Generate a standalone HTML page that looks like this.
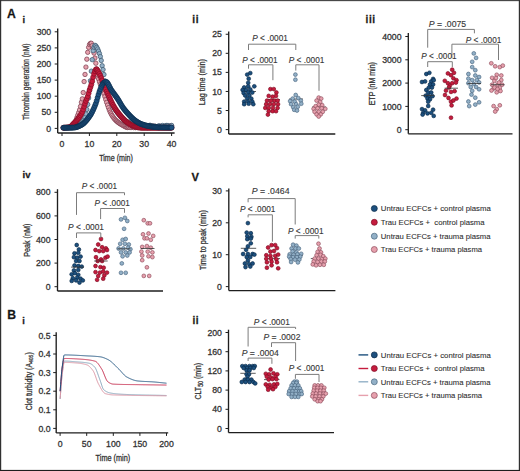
<!DOCTYPE html>
<html><head><meta charset="utf-8"><title>Figure</title>
<style>html,body{margin:0;padding:0;background:#fff;} svg{display:block;} text{font-family:"Liberation Sans", sans-serif; stroke:#333; stroke-width:0.28px;}</style>
</head><body>
<svg width="520" height="471" viewBox="0 0 520 471">
<rect x="0" y="0" width="520" height="471" fill="#ffffff"/>
<rect x="0" y="0" width="520" height="1.15" fill="#484848"/>
<rect x="0" y="0" width="1.2" height="471" fill="#303030"/>
<rect x="518.8" y="0" width="1.2" height="471" fill="#303030"/>
<rect x="0" y="469.9" width="520" height="1.1" fill="#1e1e1e"/>
<text x="7.10" y="17.80" font-size="12.2" text-anchor="start" font-weight="bold" fill="#111" >A</text>
<text x="22.40" y="23.00" font-size="9.4" text-anchor="start" font-weight="bold" fill="#111" >i</text>
<text x="192.20" y="22.60" font-size="10" text-anchor="start" font-weight="bold" fill="#111" letter-spacing="0.7">ii</text>
<text x="365.50" y="23.10" font-size="10" text-anchor="start" font-weight="bold" fill="#111" letter-spacing="0.6">iii</text>
<text x="22.60" y="178.00" font-size="9.6" text-anchor="start" font-weight="bold" fill="#111" >iv</text>
<text x="191.50" y="180.70" font-size="11.2" text-anchor="start" font-weight="bold" fill="#111" >V</text>
<text x="7.30" y="319.00" font-size="12.2" text-anchor="start" font-weight="bold" fill="#111" >B</text>
<text x="22.30" y="324.00" font-size="9.2" text-anchor="start" font-weight="bold" fill="#111" >i</text>
<text x="192.40" y="323.50" font-size="10" text-anchor="start" font-weight="bold" fill="#111" letter-spacing="0.7">ii</text>
<line x1="57.70" y1="28.50" x2="57.70" y2="133.00" stroke="#1e1e1e" stroke-width="1.35"/>
<line x1="54.70" y1="128.40" x2="57.70" y2="128.40" stroke="#1e1e1e" stroke-width="1.0"/>
<text x="51.20" y="131.50" font-size="8.7" text-anchor="end" font-weight="normal" fill="#333333" >0</text>
<line x1="54.70" y1="112.30" x2="57.70" y2="112.30" stroke="#1e1e1e" stroke-width="1.0"/>
<text x="51.20" y="115.40" font-size="8.7" text-anchor="end" font-weight="normal" fill="#333333" >50</text>
<line x1="54.70" y1="96.20" x2="57.70" y2="96.20" stroke="#1e1e1e" stroke-width="1.0"/>
<text x="51.20" y="99.30" font-size="8.7" text-anchor="end" font-weight="normal" fill="#333333" >100</text>
<line x1="54.70" y1="80.10" x2="57.70" y2="80.10" stroke="#1e1e1e" stroke-width="1.0"/>
<text x="51.20" y="83.20" font-size="8.7" text-anchor="end" font-weight="normal" fill="#333333" >150</text>
<line x1="54.70" y1="64.00" x2="57.70" y2="64.00" stroke="#1e1e1e" stroke-width="1.0"/>
<text x="51.20" y="67.10" font-size="8.7" text-anchor="end" font-weight="normal" fill="#333333" >200</text>
<line x1="54.70" y1="47.90" x2="57.70" y2="47.90" stroke="#1e1e1e" stroke-width="1.0"/>
<text x="51.20" y="51.00" font-size="8.7" text-anchor="end" font-weight="normal" fill="#333333" >250</text>
<line x1="54.70" y1="31.80" x2="57.70" y2="31.80" stroke="#1e1e1e" stroke-width="1.0"/>
<text x="51.20" y="34.90" font-size="8.7" text-anchor="end" font-weight="normal" fill="#333333" >300</text>
<line x1="57.70" y1="133.00" x2="174.60" y2="133.00" stroke="#1e1e1e" stroke-width="1.35"/>
<line x1="62.00" y1="133.00" x2="62.00" y2="136.00" stroke="#1e1e1e" stroke-width="1.0"/>
<text x="62.00" y="147.30" font-size="8.7" text-anchor="middle" font-weight="normal" fill="#333333" >0</text>
<line x1="89.40" y1="133.00" x2="89.40" y2="136.00" stroke="#1e1e1e" stroke-width="1.0"/>
<text x="89.40" y="147.30" font-size="8.7" text-anchor="middle" font-weight="normal" fill="#333333" >10</text>
<line x1="116.80" y1="133.00" x2="116.80" y2="136.00" stroke="#1e1e1e" stroke-width="1.0"/>
<text x="116.80" y="147.30" font-size="8.7" text-anchor="middle" font-weight="normal" fill="#333333" >20</text>
<line x1="144.20" y1="133.00" x2="144.20" y2="136.00" stroke="#1e1e1e" stroke-width="1.0"/>
<text x="144.20" y="147.30" font-size="8.7" text-anchor="middle" font-weight="normal" fill="#333333" >30</text>
<line x1="171.60" y1="133.00" x2="171.60" y2="136.00" stroke="#1e1e1e" stroke-width="1.0"/>
<text x="171.60" y="147.30" font-size="8.7" text-anchor="middle" font-weight="normal" fill="#333333" >40</text>
<text transform="translate(26.20,81.80) rotate(-90)" x="0" y="0" font-size="8.3" text-anchor="middle" dominant-baseline="central" fill="#333333" textLength="76.5" lengthAdjust="spacingAndGlyphs">Thrombin generation (nM)</text>
<text x="116.0" y="161" font-size="8.3" text-anchor="middle" fill="#333333" textLength="33.7" lengthAdjust="spacingAndGlyphs">Time (min)</text>
<circle cx="63.37" cy="127.76" r="2.2" fill="#e6a0ad" stroke="#7e4050" stroke-width="0.75"/>
<circle cx="64.27" cy="127.68" r="2.2" fill="#e6a0ad" stroke="#7e4050" stroke-width="0.75"/>
<circle cx="65.17" cy="127.62" r="2.2" fill="#e6a0ad" stroke="#7e4050" stroke-width="0.75"/>
<circle cx="66.08" cy="127.56" r="2.2" fill="#e6a0ad" stroke="#7e4050" stroke-width="0.75"/>
<circle cx="66.98" cy="127.49" r="2.2" fill="#e6a0ad" stroke="#7e4050" stroke-width="0.75"/>
<circle cx="67.88" cy="127.42" r="2.2" fill="#e6a0ad" stroke="#7e4050" stroke-width="0.75"/>
<circle cx="68.78" cy="127.32" r="2.2" fill="#e6a0ad" stroke="#7e4050" stroke-width="0.75"/>
<circle cx="69.68" cy="127.20" r="2.2" fill="#e6a0ad" stroke="#7e4050" stroke-width="0.75"/>
<circle cx="70.59" cy="127.02" r="2.2" fill="#e6a0ad" stroke="#7e4050" stroke-width="0.75"/>
<circle cx="71.49" cy="126.59" r="2.2" fill="#e6a0ad" stroke="#7e4050" stroke-width="0.75"/>
<circle cx="72.39" cy="125.92" r="2.2" fill="#e6a0ad" stroke="#7e4050" stroke-width="0.75"/>
<circle cx="73.29" cy="125.06" r="2.2" fill="#e6a0ad" stroke="#7e4050" stroke-width="0.75"/>
<circle cx="74.19" cy="124.04" r="2.2" fill="#e6a0ad" stroke="#7e4050" stroke-width="0.75"/>
<circle cx="75.09" cy="122.37" r="2.2" fill="#e6a0ad" stroke="#7e4050" stroke-width="0.75"/>
<circle cx="76.00" cy="120.22" r="2.2" fill="#e6a0ad" stroke="#7e4050" stroke-width="0.75"/>
<circle cx="76.90" cy="117.61" r="2.2" fill="#e6a0ad" stroke="#7e4050" stroke-width="0.75"/>
<circle cx="77.80" cy="115.12" r="2.2" fill="#e6a0ad" stroke="#7e4050" stroke-width="0.75"/>
<circle cx="78.70" cy="112.58" r="2.2" fill="#e6a0ad" stroke="#7e4050" stroke-width="0.75"/>
<circle cx="79.60" cy="109.92" r="2.2" fill="#e6a0ad" stroke="#7e4050" stroke-width="0.75"/>
<circle cx="80.51" cy="106.41" r="2.2" fill="#e6a0ad" stroke="#7e4050" stroke-width="0.75"/>
<circle cx="81.41" cy="102.25" r="2.2" fill="#e6a0ad" stroke="#7e4050" stroke-width="0.75"/>
<circle cx="82.31" cy="98.85" r="2.2" fill="#e6a0ad" stroke="#7e4050" stroke-width="0.75"/>
<circle cx="83.21" cy="92.56" r="2.2" fill="#e6a0ad" stroke="#7e4050" stroke-width="0.75"/>
<circle cx="84.11" cy="81.56" r="2.2" fill="#e6a0ad" stroke="#7e4050" stroke-width="0.75"/>
<circle cx="85.02" cy="74.43" r="2.2" fill="#e6a0ad" stroke="#7e4050" stroke-width="0.75"/>
<circle cx="85.92" cy="67.08" r="2.2" fill="#e6a0ad" stroke="#7e4050" stroke-width="0.75"/>
<circle cx="86.82" cy="59.18" r="2.2" fill="#e6a0ad" stroke="#7e4050" stroke-width="0.75"/>
<circle cx="87.72" cy="52.30" r="2.2" fill="#e6a0ad" stroke="#7e4050" stroke-width="0.75"/>
<circle cx="88.62" cy="47.39" r="2.2" fill="#e6a0ad" stroke="#7e4050" stroke-width="0.75"/>
<circle cx="89.53" cy="44.48" r="2.2" fill="#e6a0ad" stroke="#7e4050" stroke-width="0.75"/>
<circle cx="90.43" cy="43.35" r="2.2" fill="#e6a0ad" stroke="#7e4050" stroke-width="0.75"/>
<circle cx="91.33" cy="43.27" r="2.2" fill="#e6a0ad" stroke="#7e4050" stroke-width="0.75"/>
<circle cx="92.23" cy="45.69" r="2.2" fill="#e6a0ad" stroke="#7e4050" stroke-width="0.75"/>
<circle cx="93.13" cy="48.89" r="2.2" fill="#e6a0ad" stroke="#7e4050" stroke-width="0.75"/>
<circle cx="94.04" cy="53.09" r="2.2" fill="#e6a0ad" stroke="#7e4050" stroke-width="0.75"/>
<circle cx="94.94" cy="58.05" r="2.2" fill="#e6a0ad" stroke="#7e4050" stroke-width="0.75"/>
<circle cx="95.84" cy="63.23" r="2.2" fill="#e6a0ad" stroke="#7e4050" stroke-width="0.75"/>
<circle cx="96.74" cy="68.92" r="2.2" fill="#e6a0ad" stroke="#7e4050" stroke-width="0.75"/>
<circle cx="97.64" cy="74.89" r="2.2" fill="#e6a0ad" stroke="#7e4050" stroke-width="0.75"/>
<circle cx="98.54" cy="78.95" r="2.2" fill="#e6a0ad" stroke="#7e4050" stroke-width="0.75"/>
<circle cx="99.45" cy="81.86" r="2.2" fill="#e6a0ad" stroke="#7e4050" stroke-width="0.75"/>
<circle cx="100.35" cy="84.25" r="2.2" fill="#e6a0ad" stroke="#7e4050" stroke-width="0.75"/>
<circle cx="101.25" cy="86.37" r="2.2" fill="#e6a0ad" stroke="#7e4050" stroke-width="0.75"/>
<circle cx="102.15" cy="88.46" r="2.2" fill="#e6a0ad" stroke="#7e4050" stroke-width="0.75"/>
<circle cx="103.05" cy="90.77" r="2.2" fill="#e6a0ad" stroke="#7e4050" stroke-width="0.75"/>
<circle cx="103.96" cy="93.50" r="2.2" fill="#e6a0ad" stroke="#7e4050" stroke-width="0.75"/>
<circle cx="104.86" cy="96.51" r="2.2" fill="#e6a0ad" stroke="#7e4050" stroke-width="0.75"/>
<circle cx="105.76" cy="99.57" r="2.2" fill="#e6a0ad" stroke="#7e4050" stroke-width="0.75"/>
<circle cx="106.66" cy="102.47" r="2.2" fill="#e6a0ad" stroke="#7e4050" stroke-width="0.75"/>
<circle cx="107.56" cy="105.11" r="2.2" fill="#e6a0ad" stroke="#7e4050" stroke-width="0.75"/>
<circle cx="108.47" cy="107.69" r="2.2" fill="#e6a0ad" stroke="#7e4050" stroke-width="0.75"/>
<circle cx="109.37" cy="110.08" r="2.2" fill="#e6a0ad" stroke="#7e4050" stroke-width="0.75"/>
<circle cx="110.27" cy="112.16" r="2.2" fill="#e6a0ad" stroke="#7e4050" stroke-width="0.75"/>
<circle cx="111.17" cy="113.90" r="2.2" fill="#e6a0ad" stroke="#7e4050" stroke-width="0.75"/>
<circle cx="112.07" cy="115.48" r="2.2" fill="#e6a0ad" stroke="#7e4050" stroke-width="0.75"/>
<circle cx="112.98" cy="116.91" r="2.2" fill="#e6a0ad" stroke="#7e4050" stroke-width="0.75"/>
<circle cx="113.88" cy="118.19" r="2.2" fill="#e6a0ad" stroke="#7e4050" stroke-width="0.75"/>
<circle cx="114.78" cy="119.30" r="2.2" fill="#e6a0ad" stroke="#7e4050" stroke-width="0.75"/>
<circle cx="115.68" cy="120.24" r="2.2" fill="#e6a0ad" stroke="#7e4050" stroke-width="0.75"/>
<circle cx="116.58" cy="121.09" r="2.2" fill="#e6a0ad" stroke="#7e4050" stroke-width="0.75"/>
<circle cx="117.49" cy="121.87" r="2.2" fill="#e6a0ad" stroke="#7e4050" stroke-width="0.75"/>
<circle cx="118.39" cy="122.57" r="2.2" fill="#e6a0ad" stroke="#7e4050" stroke-width="0.75"/>
<circle cx="119.29" cy="123.21" r="2.2" fill="#e6a0ad" stroke="#7e4050" stroke-width="0.75"/>
<circle cx="120.19" cy="123.79" r="2.2" fill="#e6a0ad" stroke="#7e4050" stroke-width="0.75"/>
<circle cx="121.09" cy="124.32" r="2.2" fill="#e6a0ad" stroke="#7e4050" stroke-width="0.75"/>
<circle cx="121.99" cy="124.85" r="2.2" fill="#e6a0ad" stroke="#7e4050" stroke-width="0.75"/>
<circle cx="122.90" cy="125.38" r="2.2" fill="#e6a0ad" stroke="#7e4050" stroke-width="0.75"/>
<circle cx="123.80" cy="125.91" r="2.2" fill="#e6a0ad" stroke="#7e4050" stroke-width="0.75"/>
<circle cx="124.70" cy="126.40" r="2.2" fill="#e6a0ad" stroke="#7e4050" stroke-width="0.75"/>
<circle cx="125.60" cy="126.85" r="2.2" fill="#e6a0ad" stroke="#7e4050" stroke-width="0.75"/>
<circle cx="126.50" cy="127.23" r="2.2" fill="#e6a0ad" stroke="#7e4050" stroke-width="0.75"/>
<circle cx="127.41" cy="127.52" r="2.2" fill="#e6a0ad" stroke="#7e4050" stroke-width="0.75"/>
<circle cx="128.31" cy="126.97" r="2.2" fill="#e6a0ad" stroke="#7e4050" stroke-width="0.75"/>
<circle cx="129.21" cy="127.42" r="2.2" fill="#e6a0ad" stroke="#7e4050" stroke-width="0.75"/>
<circle cx="130.11" cy="126.29" r="2.2" fill="#e6a0ad" stroke="#7e4050" stroke-width="0.75"/>
<circle cx="131.01" cy="127.59" r="2.2" fill="#e6a0ad" stroke="#7e4050" stroke-width="0.75"/>
<circle cx="131.92" cy="126.55" r="2.2" fill="#e6a0ad" stroke="#7e4050" stroke-width="0.75"/>
<circle cx="132.82" cy="126.93" r="2.2" fill="#e6a0ad" stroke="#7e4050" stroke-width="0.75"/>
<circle cx="133.72" cy="127.63" r="2.2" fill="#e6a0ad" stroke="#7e4050" stroke-width="0.75"/>
<circle cx="134.62" cy="126.61" r="2.2" fill="#e6a0ad" stroke="#7e4050" stroke-width="0.75"/>
<circle cx="135.52" cy="127.67" r="2.2" fill="#e6a0ad" stroke="#7e4050" stroke-width="0.75"/>
<circle cx="136.43" cy="126.78" r="2.2" fill="#e6a0ad" stroke="#7e4050" stroke-width="0.75"/>
<circle cx="137.33" cy="127.60" r="2.2" fill="#e6a0ad" stroke="#7e4050" stroke-width="0.75"/>
<circle cx="138.23" cy="127.55" r="2.2" fill="#e6a0ad" stroke="#7e4050" stroke-width="0.75"/>
<circle cx="139.13" cy="126.80" r="2.2" fill="#e6a0ad" stroke="#7e4050" stroke-width="0.75"/>
<circle cx="140.03" cy="125.89" r="2.2" fill="#e6a0ad" stroke="#7e4050" stroke-width="0.75"/>
<circle cx="140.93" cy="127.48" r="2.2" fill="#e6a0ad" stroke="#7e4050" stroke-width="0.75"/>
<circle cx="141.84" cy="127.25" r="2.2" fill="#e6a0ad" stroke="#7e4050" stroke-width="0.75"/>
<circle cx="142.74" cy="126.34" r="2.2" fill="#e6a0ad" stroke="#7e4050" stroke-width="0.75"/>
<circle cx="143.64" cy="125.62" r="2.2" fill="#e6a0ad" stroke="#7e4050" stroke-width="0.75"/>
<circle cx="144.54" cy="126.46" r="2.2" fill="#e6a0ad" stroke="#7e4050" stroke-width="0.75"/>
<circle cx="145.44" cy="126.86" r="2.2" fill="#e6a0ad" stroke="#7e4050" stroke-width="0.75"/>
<circle cx="146.35" cy="125.56" r="2.2" fill="#e6a0ad" stroke="#7e4050" stroke-width="0.75"/>
<circle cx="147.25" cy="127.65" r="2.2" fill="#e6a0ad" stroke="#7e4050" stroke-width="0.75"/>
<circle cx="148.15" cy="125.82" r="2.2" fill="#e6a0ad" stroke="#7e4050" stroke-width="0.75"/>
<circle cx="149.05" cy="127.10" r="2.2" fill="#e6a0ad" stroke="#7e4050" stroke-width="0.75"/>
<circle cx="149.95" cy="127.43" r="2.2" fill="#e6a0ad" stroke="#7e4050" stroke-width="0.75"/>
<circle cx="150.86" cy="127.49" r="2.2" fill="#e6a0ad" stroke="#7e4050" stroke-width="0.75"/>
<circle cx="151.76" cy="127.06" r="2.2" fill="#e6a0ad" stroke="#7e4050" stroke-width="0.75"/>
<circle cx="152.66" cy="125.92" r="2.2" fill="#e6a0ad" stroke="#7e4050" stroke-width="0.75"/>
<circle cx="153.56" cy="127.35" r="2.2" fill="#e6a0ad" stroke="#7e4050" stroke-width="0.75"/>
<circle cx="154.46" cy="126.45" r="2.2" fill="#e6a0ad" stroke="#7e4050" stroke-width="0.75"/>
<circle cx="155.37" cy="126.32" r="2.2" fill="#e6a0ad" stroke="#7e4050" stroke-width="0.75"/>
<circle cx="156.27" cy="126.92" r="2.2" fill="#e6a0ad" stroke="#7e4050" stroke-width="0.75"/>
<circle cx="157.17" cy="126.52" r="2.2" fill="#e6a0ad" stroke="#7e4050" stroke-width="0.75"/>
<circle cx="158.07" cy="127.61" r="2.2" fill="#e6a0ad" stroke="#7e4050" stroke-width="0.75"/>
<circle cx="158.97" cy="127.62" r="2.2" fill="#e6a0ad" stroke="#7e4050" stroke-width="0.75"/>
<circle cx="159.88" cy="127.29" r="2.2" fill="#e6a0ad" stroke="#7e4050" stroke-width="0.75"/>
<circle cx="160.78" cy="126.22" r="2.2" fill="#e6a0ad" stroke="#7e4050" stroke-width="0.75"/>
<circle cx="161.68" cy="126.79" r="2.2" fill="#e6a0ad" stroke="#7e4050" stroke-width="0.75"/>
<circle cx="162.58" cy="127.05" r="2.2" fill="#e6a0ad" stroke="#7e4050" stroke-width="0.75"/>
<circle cx="163.48" cy="126.44" r="2.2" fill="#e6a0ad" stroke="#7e4050" stroke-width="0.75"/>
<circle cx="164.38" cy="126.73" r="2.2" fill="#e6a0ad" stroke="#7e4050" stroke-width="0.75"/>
<circle cx="165.29" cy="127.08" r="2.2" fill="#e6a0ad" stroke="#7e4050" stroke-width="0.75"/>
<circle cx="166.19" cy="125.97" r="2.2" fill="#e6a0ad" stroke="#7e4050" stroke-width="0.75"/>
<circle cx="167.09" cy="126.18" r="2.2" fill="#e6a0ad" stroke="#7e4050" stroke-width="0.75"/>
<circle cx="167.99" cy="127.21" r="2.2" fill="#e6a0ad" stroke="#7e4050" stroke-width="0.75"/>
<circle cx="168.89" cy="126.46" r="2.2" fill="#e6a0ad" stroke="#7e4050" stroke-width="0.75"/>
<circle cx="169.80" cy="126.57" r="2.2" fill="#e6a0ad" stroke="#7e4050" stroke-width="0.75"/>
<circle cx="170.70" cy="125.78" r="2.2" fill="#e6a0ad" stroke="#7e4050" stroke-width="0.75"/>
<circle cx="171.60" cy="126.11" r="2.2" fill="#e6a0ad" stroke="#7e4050" stroke-width="0.75"/>
<circle cx="63.37" cy="127.76" r="2.2" fill="#92b0c7" stroke="#3f5a70" stroke-width="0.75"/>
<circle cx="64.27" cy="127.73" r="2.2" fill="#92b0c7" stroke="#3f5a70" stroke-width="0.75"/>
<circle cx="65.17" cy="127.70" r="2.2" fill="#92b0c7" stroke="#3f5a70" stroke-width="0.75"/>
<circle cx="66.08" cy="127.68" r="2.2" fill="#92b0c7" stroke="#3f5a70" stroke-width="0.75"/>
<circle cx="66.98" cy="127.66" r="2.2" fill="#92b0c7" stroke="#3f5a70" stroke-width="0.75"/>
<circle cx="67.88" cy="127.64" r="2.2" fill="#92b0c7" stroke="#3f5a70" stroke-width="0.75"/>
<circle cx="68.78" cy="127.62" r="2.2" fill="#92b0c7" stroke="#3f5a70" stroke-width="0.75"/>
<circle cx="69.68" cy="127.59" r="2.2" fill="#92b0c7" stroke="#3f5a70" stroke-width="0.75"/>
<circle cx="70.59" cy="127.56" r="2.2" fill="#92b0c7" stroke="#3f5a70" stroke-width="0.75"/>
<circle cx="71.49" cy="127.52" r="2.2" fill="#92b0c7" stroke="#3f5a70" stroke-width="0.75"/>
<circle cx="72.39" cy="127.47" r="2.2" fill="#92b0c7" stroke="#3f5a70" stroke-width="0.75"/>
<circle cx="73.29" cy="127.40" r="2.2" fill="#92b0c7" stroke="#3f5a70" stroke-width="0.75"/>
<circle cx="74.19" cy="127.22" r="2.2" fill="#92b0c7" stroke="#3f5a70" stroke-width="0.75"/>
<circle cx="75.09" cy="126.92" r="2.2" fill="#92b0c7" stroke="#3f5a70" stroke-width="0.75"/>
<circle cx="76.00" cy="126.53" r="2.2" fill="#92b0c7" stroke="#3f5a70" stroke-width="0.75"/>
<circle cx="76.90" cy="126.06" r="2.2" fill="#92b0c7" stroke="#3f5a70" stroke-width="0.75"/>
<circle cx="77.80" cy="125.55" r="2.2" fill="#92b0c7" stroke="#3f5a70" stroke-width="0.75"/>
<circle cx="78.70" cy="125.02" r="2.2" fill="#92b0c7" stroke="#3f5a70" stroke-width="0.75"/>
<circle cx="79.60" cy="124.44" r="2.2" fill="#92b0c7" stroke="#3f5a70" stroke-width="0.75"/>
<circle cx="80.51" cy="123.75" r="2.2" fill="#92b0c7" stroke="#3f5a70" stroke-width="0.75"/>
<circle cx="81.41" cy="122.94" r="2.2" fill="#92b0c7" stroke="#3f5a70" stroke-width="0.75"/>
<circle cx="82.31" cy="121.96" r="2.2" fill="#92b0c7" stroke="#3f5a70" stroke-width="0.75"/>
<circle cx="83.21" cy="120.78" r="2.2" fill="#92b0c7" stroke="#3f5a70" stroke-width="0.75"/>
<circle cx="84.11" cy="119.37" r="2.2" fill="#92b0c7" stroke="#3f5a70" stroke-width="0.75"/>
<circle cx="85.02" cy="117.39" r="2.2" fill="#92b0c7" stroke="#3f5a70" stroke-width="0.75"/>
<circle cx="85.92" cy="113.92" r="2.2" fill="#92b0c7" stroke="#3f5a70" stroke-width="0.75"/>
<circle cx="86.82" cy="109.50" r="2.2" fill="#92b0c7" stroke="#3f5a70" stroke-width="0.75"/>
<circle cx="87.72" cy="104.47" r="2.2" fill="#92b0c7" stroke="#3f5a70" stroke-width="0.75"/>
<circle cx="88.62" cy="98.01" r="2.2" fill="#92b0c7" stroke="#3f5a70" stroke-width="0.75"/>
<circle cx="89.53" cy="90.10" r="2.2" fill="#92b0c7" stroke="#3f5a70" stroke-width="0.75"/>
<circle cx="90.43" cy="80.81" r="2.2" fill="#92b0c7" stroke="#3f5a70" stroke-width="0.75"/>
<circle cx="91.33" cy="71.15" r="2.2" fill="#92b0c7" stroke="#3f5a70" stroke-width="0.75"/>
<circle cx="92.23" cy="59.67" r="2.2" fill="#92b0c7" stroke="#3f5a70" stroke-width="0.75"/>
<circle cx="93.13" cy="50.75" r="2.2" fill="#92b0c7" stroke="#3f5a70" stroke-width="0.75"/>
<circle cx="94.04" cy="47.13" r="2.2" fill="#92b0c7" stroke="#3f5a70" stroke-width="0.75"/>
<circle cx="94.94" cy="45.33" r="2.2" fill="#92b0c7" stroke="#3f5a70" stroke-width="0.75"/>
<circle cx="95.84" cy="45.93" r="2.2" fill="#92b0c7" stroke="#3f5a70" stroke-width="0.75"/>
<circle cx="96.74" cy="47.35" r="2.2" fill="#92b0c7" stroke="#3f5a70" stroke-width="0.75"/>
<circle cx="97.64" cy="48.96" r="2.2" fill="#92b0c7" stroke="#3f5a70" stroke-width="0.75"/>
<circle cx="98.54" cy="51.08" r="2.2" fill="#92b0c7" stroke="#3f5a70" stroke-width="0.75"/>
<circle cx="99.45" cy="53.58" r="2.2" fill="#92b0c7" stroke="#3f5a70" stroke-width="0.75"/>
<circle cx="100.35" cy="56.57" r="2.2" fill="#92b0c7" stroke="#3f5a70" stroke-width="0.75"/>
<circle cx="101.25" cy="60.47" r="2.2" fill="#92b0c7" stroke="#3f5a70" stroke-width="0.75"/>
<circle cx="102.15" cy="65.71" r="2.2" fill="#92b0c7" stroke="#3f5a70" stroke-width="0.75"/>
<circle cx="103.05" cy="69.59" r="2.2" fill="#92b0c7" stroke="#3f5a70" stroke-width="0.75"/>
<circle cx="103.96" cy="74.54" r="2.2" fill="#92b0c7" stroke="#3f5a70" stroke-width="0.75"/>
<circle cx="104.86" cy="80.83" r="2.2" fill="#92b0c7" stroke="#3f5a70" stroke-width="0.75"/>
<circle cx="105.76" cy="86.59" r="2.2" fill="#92b0c7" stroke="#3f5a70" stroke-width="0.75"/>
<circle cx="106.66" cy="90.81" r="2.2" fill="#92b0c7" stroke="#3f5a70" stroke-width="0.75"/>
<circle cx="107.56" cy="93.78" r="2.2" fill="#92b0c7" stroke="#3f5a70" stroke-width="0.75"/>
<circle cx="108.47" cy="96.20" r="2.2" fill="#92b0c7" stroke="#3f5a70" stroke-width="0.75"/>
<circle cx="109.37" cy="98.37" r="2.2" fill="#92b0c7" stroke="#3f5a70" stroke-width="0.75"/>
<circle cx="110.27" cy="100.47" r="2.2" fill="#92b0c7" stroke="#3f5a70" stroke-width="0.75"/>
<circle cx="111.17" cy="102.43" r="2.2" fill="#92b0c7" stroke="#3f5a70" stroke-width="0.75"/>
<circle cx="112.07" cy="104.25" r="2.2" fill="#92b0c7" stroke="#3f5a70" stroke-width="0.75"/>
<circle cx="112.98" cy="105.94" r="2.2" fill="#92b0c7" stroke="#3f5a70" stroke-width="0.75"/>
<circle cx="113.88" cy="107.49" r="2.2" fill="#92b0c7" stroke="#3f5a70" stroke-width="0.75"/>
<circle cx="114.78" cy="108.93" r="2.2" fill="#92b0c7" stroke="#3f5a70" stroke-width="0.75"/>
<circle cx="115.68" cy="110.27" r="2.2" fill="#92b0c7" stroke="#3f5a70" stroke-width="0.75"/>
<circle cx="116.58" cy="111.53" r="2.2" fill="#92b0c7" stroke="#3f5a70" stroke-width="0.75"/>
<circle cx="117.49" cy="112.71" r="2.2" fill="#92b0c7" stroke="#3f5a70" stroke-width="0.75"/>
<circle cx="118.39" cy="113.84" r="2.2" fill="#92b0c7" stroke="#3f5a70" stroke-width="0.75"/>
<circle cx="119.29" cy="114.91" r="2.2" fill="#92b0c7" stroke="#3f5a70" stroke-width="0.75"/>
<circle cx="120.19" cy="115.95" r="2.2" fill="#92b0c7" stroke="#3f5a70" stroke-width="0.75"/>
<circle cx="121.09" cy="116.97" r="2.2" fill="#92b0c7" stroke="#3f5a70" stroke-width="0.75"/>
<circle cx="121.99" cy="117.96" r="2.2" fill="#92b0c7" stroke="#3f5a70" stroke-width="0.75"/>
<circle cx="122.90" cy="118.92" r="2.2" fill="#92b0c7" stroke="#3f5a70" stroke-width="0.75"/>
<circle cx="123.80" cy="119.83" r="2.2" fill="#92b0c7" stroke="#3f5a70" stroke-width="0.75"/>
<circle cx="124.70" cy="120.68" r="2.2" fill="#92b0c7" stroke="#3f5a70" stroke-width="0.75"/>
<circle cx="125.60" cy="121.46" r="2.2" fill="#92b0c7" stroke="#3f5a70" stroke-width="0.75"/>
<circle cx="126.50" cy="122.17" r="2.2" fill="#92b0c7" stroke="#3f5a70" stroke-width="0.75"/>
<circle cx="127.41" cy="122.81" r="2.2" fill="#92b0c7" stroke="#3f5a70" stroke-width="0.75"/>
<circle cx="128.31" cy="122.82" r="2.2" fill="#92b0c7" stroke="#3f5a70" stroke-width="0.75"/>
<circle cx="129.21" cy="121.90" r="2.2" fill="#92b0c7" stroke="#3f5a70" stroke-width="0.75"/>
<circle cx="130.11" cy="124.45" r="2.2" fill="#92b0c7" stroke="#3f5a70" stroke-width="0.75"/>
<circle cx="131.01" cy="124.34" r="2.2" fill="#92b0c7" stroke="#3f5a70" stroke-width="0.75"/>
<circle cx="131.92" cy="124.08" r="2.2" fill="#92b0c7" stroke="#3f5a70" stroke-width="0.75"/>
<circle cx="132.82" cy="125.87" r="2.2" fill="#92b0c7" stroke="#3f5a70" stroke-width="0.75"/>
<circle cx="133.72" cy="125.44" r="2.2" fill="#92b0c7" stroke="#3f5a70" stroke-width="0.75"/>
<circle cx="134.62" cy="126.66" r="2.2" fill="#92b0c7" stroke="#3f5a70" stroke-width="0.75"/>
<circle cx="135.52" cy="125.36" r="2.2" fill="#92b0c7" stroke="#3f5a70" stroke-width="0.75"/>
<circle cx="136.43" cy="125.25" r="2.2" fill="#92b0c7" stroke="#3f5a70" stroke-width="0.75"/>
<circle cx="137.33" cy="125.77" r="2.2" fill="#92b0c7" stroke="#3f5a70" stroke-width="0.75"/>
<circle cx="138.23" cy="125.18" r="2.2" fill="#92b0c7" stroke="#3f5a70" stroke-width="0.75"/>
<circle cx="139.13" cy="126.52" r="2.2" fill="#92b0c7" stroke="#3f5a70" stroke-width="0.75"/>
<circle cx="140.03" cy="125.72" r="2.2" fill="#92b0c7" stroke="#3f5a70" stroke-width="0.75"/>
<circle cx="140.93" cy="126.01" r="2.2" fill="#92b0c7" stroke="#3f5a70" stroke-width="0.75"/>
<circle cx="141.84" cy="126.08" r="2.2" fill="#92b0c7" stroke="#3f5a70" stroke-width="0.75"/>
<circle cx="142.74" cy="126.39" r="2.2" fill="#92b0c7" stroke="#3f5a70" stroke-width="0.75"/>
<circle cx="143.64" cy="125.54" r="2.2" fill="#92b0c7" stroke="#3f5a70" stroke-width="0.75"/>
<circle cx="144.54" cy="125.30" r="2.2" fill="#92b0c7" stroke="#3f5a70" stroke-width="0.75"/>
<circle cx="145.44" cy="126.37" r="2.2" fill="#92b0c7" stroke="#3f5a70" stroke-width="0.75"/>
<circle cx="146.35" cy="125.94" r="2.2" fill="#92b0c7" stroke="#3f5a70" stroke-width="0.75"/>
<circle cx="147.25" cy="127.30" r="2.2" fill="#92b0c7" stroke="#3f5a70" stroke-width="0.75"/>
<circle cx="148.15" cy="125.85" r="2.2" fill="#92b0c7" stroke="#3f5a70" stroke-width="0.75"/>
<circle cx="149.05" cy="125.98" r="2.2" fill="#92b0c7" stroke="#3f5a70" stroke-width="0.75"/>
<circle cx="149.95" cy="125.20" r="2.2" fill="#92b0c7" stroke="#3f5a70" stroke-width="0.75"/>
<circle cx="150.86" cy="125.58" r="2.2" fill="#92b0c7" stroke="#3f5a70" stroke-width="0.75"/>
<circle cx="151.76" cy="126.79" r="2.2" fill="#92b0c7" stroke="#3f5a70" stroke-width="0.75"/>
<circle cx="152.66" cy="126.56" r="2.2" fill="#92b0c7" stroke="#3f5a70" stroke-width="0.75"/>
<circle cx="153.56" cy="125.93" r="2.2" fill="#92b0c7" stroke="#3f5a70" stroke-width="0.75"/>
<circle cx="154.46" cy="127.38" r="2.2" fill="#92b0c7" stroke="#3f5a70" stroke-width="0.75"/>
<circle cx="155.37" cy="126.39" r="2.2" fill="#92b0c7" stroke="#3f5a70" stroke-width="0.75"/>
<circle cx="156.27" cy="127.06" r="2.2" fill="#92b0c7" stroke="#3f5a70" stroke-width="0.75"/>
<circle cx="157.17" cy="127.17" r="2.2" fill="#92b0c7" stroke="#3f5a70" stroke-width="0.75"/>
<circle cx="158.07" cy="127.30" r="2.2" fill="#92b0c7" stroke="#3f5a70" stroke-width="0.75"/>
<circle cx="158.97" cy="125.70" r="2.2" fill="#92b0c7" stroke="#3f5a70" stroke-width="0.75"/>
<circle cx="159.88" cy="127.14" r="2.2" fill="#92b0c7" stroke="#3f5a70" stroke-width="0.75"/>
<circle cx="160.78" cy="126.88" r="2.2" fill="#92b0c7" stroke="#3f5a70" stroke-width="0.75"/>
<circle cx="161.68" cy="126.55" r="2.2" fill="#92b0c7" stroke="#3f5a70" stroke-width="0.75"/>
<circle cx="162.58" cy="125.47" r="2.2" fill="#92b0c7" stroke="#3f5a70" stroke-width="0.75"/>
<circle cx="163.48" cy="127.25" r="2.2" fill="#92b0c7" stroke="#3f5a70" stroke-width="0.75"/>
<circle cx="164.38" cy="126.42" r="2.2" fill="#92b0c7" stroke="#3f5a70" stroke-width="0.75"/>
<circle cx="165.29" cy="126.20" r="2.2" fill="#92b0c7" stroke="#3f5a70" stroke-width="0.75"/>
<circle cx="166.19" cy="125.44" r="2.2" fill="#92b0c7" stroke="#3f5a70" stroke-width="0.75"/>
<circle cx="167.09" cy="125.59" r="2.2" fill="#92b0c7" stroke="#3f5a70" stroke-width="0.75"/>
<circle cx="167.99" cy="125.49" r="2.2" fill="#92b0c7" stroke="#3f5a70" stroke-width="0.75"/>
<circle cx="168.89" cy="126.81" r="2.2" fill="#92b0c7" stroke="#3f5a70" stroke-width="0.75"/>
<circle cx="169.80" cy="126.50" r="2.2" fill="#92b0c7" stroke="#3f5a70" stroke-width="0.75"/>
<circle cx="170.70" cy="126.63" r="2.2" fill="#92b0c7" stroke="#3f5a70" stroke-width="0.75"/>
<circle cx="171.60" cy="125.44" r="2.2" fill="#92b0c7" stroke="#3f5a70" stroke-width="0.75"/>
<circle cx="63.37" cy="127.76" r="2.5" fill="#c51c3e" stroke="#7d0c22" stroke-width="0.6"/>
<circle cx="64.27" cy="127.68" r="2.5" fill="#c51c3e" stroke="#7d0c22" stroke-width="0.6"/>
<circle cx="65.17" cy="127.62" r="2.5" fill="#c51c3e" stroke="#7d0c22" stroke-width="0.6"/>
<circle cx="66.08" cy="127.57" r="2.5" fill="#c51c3e" stroke="#7d0c22" stroke-width="0.6"/>
<circle cx="66.98" cy="127.51" r="2.5" fill="#c51c3e" stroke="#7d0c22" stroke-width="0.6"/>
<circle cx="67.88" cy="127.44" r="2.5" fill="#c51c3e" stroke="#7d0c22" stroke-width="0.6"/>
<circle cx="68.78" cy="127.34" r="2.5" fill="#c51c3e" stroke="#7d0c22" stroke-width="0.6"/>
<circle cx="69.68" cy="127.21" r="2.5" fill="#c51c3e" stroke="#7d0c22" stroke-width="0.6"/>
<circle cx="70.59" cy="126.96" r="2.5" fill="#c51c3e" stroke="#7d0c22" stroke-width="0.6"/>
<circle cx="71.49" cy="126.08" r="2.5" fill="#c51c3e" stroke="#7d0c22" stroke-width="0.6"/>
<circle cx="72.39" cy="124.89" r="2.5" fill="#c51c3e" stroke="#7d0c22" stroke-width="0.6"/>
<circle cx="73.29" cy="123.88" r="2.5" fill="#c51c3e" stroke="#7d0c22" stroke-width="0.6"/>
<circle cx="74.19" cy="123.00" r="2.5" fill="#c51c3e" stroke="#7d0c22" stroke-width="0.6"/>
<circle cx="75.09" cy="122.13" r="2.5" fill="#c51c3e" stroke="#7d0c22" stroke-width="0.6"/>
<circle cx="76.00" cy="121.23" r="2.5" fill="#c51c3e" stroke="#7d0c22" stroke-width="0.6"/>
<circle cx="76.90" cy="120.23" r="2.5" fill="#c51c3e" stroke="#7d0c22" stroke-width="0.6"/>
<circle cx="77.80" cy="119.12" r="2.5" fill="#c51c3e" stroke="#7d0c22" stroke-width="0.6"/>
<circle cx="78.70" cy="117.95" r="2.5" fill="#c51c3e" stroke="#7d0c22" stroke-width="0.6"/>
<circle cx="79.60" cy="116.67" r="2.5" fill="#c51c3e" stroke="#7d0c22" stroke-width="0.6"/>
<circle cx="80.51" cy="115.26" r="2.5" fill="#c51c3e" stroke="#7d0c22" stroke-width="0.6"/>
<circle cx="81.41" cy="113.68" r="2.5" fill="#c51c3e" stroke="#7d0c22" stroke-width="0.6"/>
<circle cx="82.31" cy="111.87" r="2.5" fill="#c51c3e" stroke="#7d0c22" stroke-width="0.6"/>
<circle cx="83.21" cy="109.48" r="2.5" fill="#c51c3e" stroke="#7d0c22" stroke-width="0.6"/>
<circle cx="84.11" cy="106.63" r="2.5" fill="#c51c3e" stroke="#7d0c22" stroke-width="0.6"/>
<circle cx="85.02" cy="103.67" r="2.5" fill="#c51c3e" stroke="#7d0c22" stroke-width="0.6"/>
<circle cx="85.92" cy="100.96" r="2.5" fill="#c51c3e" stroke="#7d0c22" stroke-width="0.6"/>
<circle cx="86.82" cy="98.67" r="2.5" fill="#c51c3e" stroke="#7d0c22" stroke-width="0.6"/>
<circle cx="87.72" cy="96.30" r="2.5" fill="#c51c3e" stroke="#7d0c22" stroke-width="0.6"/>
<circle cx="88.62" cy="93.32" r="2.5" fill="#c51c3e" stroke="#7d0c22" stroke-width="0.6"/>
<circle cx="89.53" cy="90.08" r="2.5" fill="#c51c3e" stroke="#7d0c22" stroke-width="0.6"/>
<circle cx="90.43" cy="87.19" r="2.5" fill="#c51c3e" stroke="#7d0c22" stroke-width="0.6"/>
<circle cx="91.33" cy="84.46" r="2.5" fill="#c51c3e" stroke="#7d0c22" stroke-width="0.6"/>
<circle cx="92.23" cy="81.25" r="2.5" fill="#c51c3e" stroke="#7d0c22" stroke-width="0.6"/>
<circle cx="93.13" cy="77.17" r="2.5" fill="#c51c3e" stroke="#7d0c22" stroke-width="0.6"/>
<circle cx="94.04" cy="73.72" r="2.5" fill="#c51c3e" stroke="#7d0c22" stroke-width="0.6"/>
<circle cx="94.94" cy="71.20" r="2.5" fill="#c51c3e" stroke="#7d0c22" stroke-width="0.6"/>
<circle cx="95.84" cy="69.40" r="2.5" fill="#c51c3e" stroke="#7d0c22" stroke-width="0.6"/>
<circle cx="96.74" cy="69.35" r="2.5" fill="#c51c3e" stroke="#7d0c22" stroke-width="0.6"/>
<circle cx="97.64" cy="70.53" r="2.5" fill="#c51c3e" stroke="#7d0c22" stroke-width="0.6"/>
<circle cx="98.54" cy="72.20" r="2.5" fill="#c51c3e" stroke="#7d0c22" stroke-width="0.6"/>
<circle cx="99.45" cy="73.86" r="2.5" fill="#c51c3e" stroke="#7d0c22" stroke-width="0.6"/>
<circle cx="100.35" cy="75.82" r="2.5" fill="#c51c3e" stroke="#7d0c22" stroke-width="0.6"/>
<circle cx="101.25" cy="78.05" r="2.5" fill="#c51c3e" stroke="#7d0c22" stroke-width="0.6"/>
<circle cx="102.15" cy="80.44" r="2.5" fill="#c51c3e" stroke="#7d0c22" stroke-width="0.6"/>
<circle cx="103.05" cy="82.88" r="2.5" fill="#c51c3e" stroke="#7d0c22" stroke-width="0.6"/>
<circle cx="103.96" cy="85.26" r="2.5" fill="#c51c3e" stroke="#7d0c22" stroke-width="0.6"/>
<circle cx="104.86" cy="87.45" r="2.5" fill="#c51c3e" stroke="#7d0c22" stroke-width="0.6"/>
<circle cx="105.76" cy="89.52" r="2.5" fill="#c51c3e" stroke="#7d0c22" stroke-width="0.6"/>
<circle cx="106.66" cy="91.55" r="2.5" fill="#c51c3e" stroke="#7d0c22" stroke-width="0.6"/>
<circle cx="107.56" cy="93.55" r="2.5" fill="#c51c3e" stroke="#7d0c22" stroke-width="0.6"/>
<circle cx="108.47" cy="95.50" r="2.5" fill="#c51c3e" stroke="#7d0c22" stroke-width="0.6"/>
<circle cx="109.37" cy="97.42" r="2.5" fill="#c51c3e" stroke="#7d0c22" stroke-width="0.6"/>
<circle cx="110.27" cy="99.33" r="2.5" fill="#c51c3e" stroke="#7d0c22" stroke-width="0.6"/>
<circle cx="111.17" cy="101.25" r="2.5" fill="#c51c3e" stroke="#7d0c22" stroke-width="0.6"/>
<circle cx="112.07" cy="103.12" r="2.5" fill="#c51c3e" stroke="#7d0c22" stroke-width="0.6"/>
<circle cx="112.98" cy="104.89" r="2.5" fill="#c51c3e" stroke="#7d0c22" stroke-width="0.6"/>
<circle cx="113.88" cy="106.52" r="2.5" fill="#c51c3e" stroke="#7d0c22" stroke-width="0.6"/>
<circle cx="114.78" cy="107.99" r="2.5" fill="#c51c3e" stroke="#7d0c22" stroke-width="0.6"/>
<circle cx="115.68" cy="109.38" r="2.5" fill="#c51c3e" stroke="#7d0c22" stroke-width="0.6"/>
<circle cx="116.58" cy="110.69" r="2.5" fill="#c51c3e" stroke="#7d0c22" stroke-width="0.6"/>
<circle cx="117.49" cy="111.93" r="2.5" fill="#c51c3e" stroke="#7d0c22" stroke-width="0.6"/>
<circle cx="118.39" cy="113.11" r="2.5" fill="#c51c3e" stroke="#7d0c22" stroke-width="0.6"/>
<circle cx="119.29" cy="114.24" r="2.5" fill="#c51c3e" stroke="#7d0c22" stroke-width="0.6"/>
<circle cx="120.19" cy="115.33" r="2.5" fill="#c51c3e" stroke="#7d0c22" stroke-width="0.6"/>
<circle cx="121.09" cy="116.39" r="2.5" fill="#c51c3e" stroke="#7d0c22" stroke-width="0.6"/>
<circle cx="121.99" cy="117.44" r="2.5" fill="#c51c3e" stroke="#7d0c22" stroke-width="0.6"/>
<circle cx="122.90" cy="118.45" r="2.5" fill="#c51c3e" stroke="#7d0c22" stroke-width="0.6"/>
<circle cx="123.80" cy="119.41" r="2.5" fill="#c51c3e" stroke="#7d0c22" stroke-width="0.6"/>
<circle cx="124.70" cy="120.30" r="2.5" fill="#c51c3e" stroke="#7d0c22" stroke-width="0.6"/>
<circle cx="125.60" cy="121.12" r="2.5" fill="#c51c3e" stroke="#7d0c22" stroke-width="0.6"/>
<circle cx="126.50" cy="121.84" r="2.5" fill="#c51c3e" stroke="#7d0c22" stroke-width="0.6"/>
<circle cx="127.41" cy="122.49" r="2.5" fill="#c51c3e" stroke="#7d0c22" stroke-width="0.6"/>
<circle cx="128.31" cy="123.12" r="2.5" fill="#c51c3e" stroke="#7d0c22" stroke-width="0.6"/>
<circle cx="129.21" cy="123.72" r="2.5" fill="#c51c3e" stroke="#7d0c22" stroke-width="0.6"/>
<circle cx="130.11" cy="124.29" r="2.5" fill="#c51c3e" stroke="#7d0c22" stroke-width="0.6"/>
<circle cx="131.01" cy="124.82" r="2.5" fill="#c51c3e" stroke="#7d0c22" stroke-width="0.6"/>
<circle cx="131.92" cy="125.30" r="2.5" fill="#c51c3e" stroke="#7d0c22" stroke-width="0.6"/>
<circle cx="132.82" cy="125.73" r="2.5" fill="#c51c3e" stroke="#7d0c22" stroke-width="0.6"/>
<circle cx="133.72" cy="126.09" r="2.5" fill="#c51c3e" stroke="#7d0c22" stroke-width="0.6"/>
<circle cx="134.62" cy="126.39" r="2.5" fill="#c51c3e" stroke="#7d0c22" stroke-width="0.6"/>
<circle cx="135.52" cy="126.64" r="2.5" fill="#c51c3e" stroke="#7d0c22" stroke-width="0.6"/>
<circle cx="136.43" cy="126.88" r="2.5" fill="#c51c3e" stroke="#7d0c22" stroke-width="0.6"/>
<circle cx="137.33" cy="127.10" r="2.5" fill="#c51c3e" stroke="#7d0c22" stroke-width="0.6"/>
<circle cx="138.23" cy="127.31" r="2.5" fill="#c51c3e" stroke="#7d0c22" stroke-width="0.6"/>
<circle cx="139.13" cy="127.48" r="2.5" fill="#c51c3e" stroke="#7d0c22" stroke-width="0.6"/>
<circle cx="140.03" cy="127.62" r="2.5" fill="#c51c3e" stroke="#7d0c22" stroke-width="0.6"/>
<circle cx="140.93" cy="127.71" r="2.5" fill="#c51c3e" stroke="#7d0c22" stroke-width="0.6"/>
<circle cx="141.84" cy="127.75" r="2.5" fill="#c51c3e" stroke="#7d0c22" stroke-width="0.6"/>
<circle cx="142.74" cy="127.76" r="2.5" fill="#c51c3e" stroke="#7d0c22" stroke-width="0.6"/>
<circle cx="143.64" cy="127.76" r="2.5" fill="#c51c3e" stroke="#7d0c22" stroke-width="0.6"/>
<circle cx="144.54" cy="127.76" r="2.5" fill="#c51c3e" stroke="#7d0c22" stroke-width="0.6"/>
<circle cx="145.44" cy="127.76" r="2.5" fill="#c51c3e" stroke="#7d0c22" stroke-width="0.6"/>
<circle cx="146.35" cy="127.76" r="2.5" fill="#c51c3e" stroke="#7d0c22" stroke-width="0.6"/>
<circle cx="147.25" cy="127.76" r="2.5" fill="#c51c3e" stroke="#7d0c22" stroke-width="0.6"/>
<circle cx="148.15" cy="127.76" r="2.5" fill="#c51c3e" stroke="#7d0c22" stroke-width="0.6"/>
<circle cx="149.05" cy="127.76" r="2.5" fill="#c51c3e" stroke="#7d0c22" stroke-width="0.6"/>
<circle cx="149.95" cy="127.76" r="2.5" fill="#c51c3e" stroke="#7d0c22" stroke-width="0.6"/>
<circle cx="150.86" cy="127.76" r="2.5" fill="#c51c3e" stroke="#7d0c22" stroke-width="0.6"/>
<circle cx="151.76" cy="127.76" r="2.5" fill="#c51c3e" stroke="#7d0c22" stroke-width="0.6"/>
<circle cx="152.66" cy="127.76" r="2.5" fill="#c51c3e" stroke="#7d0c22" stroke-width="0.6"/>
<circle cx="153.56" cy="127.76" r="2.5" fill="#c51c3e" stroke="#7d0c22" stroke-width="0.6"/>
<circle cx="154.46" cy="127.76" r="2.5" fill="#c51c3e" stroke="#7d0c22" stroke-width="0.6"/>
<circle cx="155.37" cy="127.76" r="2.5" fill="#c51c3e" stroke="#7d0c22" stroke-width="0.6"/>
<circle cx="156.27" cy="127.76" r="2.5" fill="#c51c3e" stroke="#7d0c22" stroke-width="0.6"/>
<circle cx="157.17" cy="127.76" r="2.5" fill="#c51c3e" stroke="#7d0c22" stroke-width="0.6"/>
<circle cx="158.07" cy="127.76" r="2.5" fill="#c51c3e" stroke="#7d0c22" stroke-width="0.6"/>
<circle cx="158.97" cy="127.76" r="2.5" fill="#c51c3e" stroke="#7d0c22" stroke-width="0.6"/>
<circle cx="159.88" cy="127.76" r="2.5" fill="#c51c3e" stroke="#7d0c22" stroke-width="0.6"/>
<circle cx="160.78" cy="127.76" r="2.5" fill="#c51c3e" stroke="#7d0c22" stroke-width="0.6"/>
<circle cx="161.68" cy="127.76" r="2.5" fill="#c51c3e" stroke="#7d0c22" stroke-width="0.6"/>
<circle cx="162.58" cy="127.76" r="2.5" fill="#c51c3e" stroke="#7d0c22" stroke-width="0.6"/>
<circle cx="163.48" cy="127.76" r="2.5" fill="#c51c3e" stroke="#7d0c22" stroke-width="0.6"/>
<circle cx="164.38" cy="127.76" r="2.5" fill="#c51c3e" stroke="#7d0c22" stroke-width="0.6"/>
<circle cx="165.29" cy="127.76" r="2.5" fill="#c51c3e" stroke="#7d0c22" stroke-width="0.6"/>
<circle cx="166.19" cy="127.76" r="2.5" fill="#c51c3e" stroke="#7d0c22" stroke-width="0.6"/>
<circle cx="167.09" cy="127.76" r="2.5" fill="#c51c3e" stroke="#7d0c22" stroke-width="0.6"/>
<circle cx="167.99" cy="127.76" r="2.5" fill="#c51c3e" stroke="#7d0c22" stroke-width="0.6"/>
<circle cx="168.89" cy="127.76" r="2.5" fill="#c51c3e" stroke="#7d0c22" stroke-width="0.6"/>
<circle cx="169.80" cy="127.76" r="2.5" fill="#c51c3e" stroke="#7d0c22" stroke-width="0.6"/>
<circle cx="170.70" cy="127.76" r="2.5" fill="#c51c3e" stroke="#7d0c22" stroke-width="0.6"/>
<circle cx="171.60" cy="127.76" r="2.5" fill="#c51c3e" stroke="#7d0c22" stroke-width="0.6"/>
<circle cx="63.37" cy="127.76" r="2.5" fill="#1d507e" stroke="#0a2a48" stroke-width="0.6"/>
<circle cx="64.27" cy="127.74" r="2.5" fill="#1d507e" stroke="#0a2a48" stroke-width="0.6"/>
<circle cx="65.17" cy="127.73" r="2.5" fill="#1d507e" stroke="#0a2a48" stroke-width="0.6"/>
<circle cx="66.08" cy="127.72" r="2.5" fill="#1d507e" stroke="#0a2a48" stroke-width="0.6"/>
<circle cx="66.98" cy="127.71" r="2.5" fill="#1d507e" stroke="#0a2a48" stroke-width="0.6"/>
<circle cx="67.88" cy="127.70" r="2.5" fill="#1d507e" stroke="#0a2a48" stroke-width="0.6"/>
<circle cx="68.78" cy="127.69" r="2.5" fill="#1d507e" stroke="#0a2a48" stroke-width="0.6"/>
<circle cx="69.68" cy="127.68" r="2.5" fill="#1d507e" stroke="#0a2a48" stroke-width="0.6"/>
<circle cx="70.59" cy="127.67" r="2.5" fill="#1d507e" stroke="#0a2a48" stroke-width="0.6"/>
<circle cx="71.49" cy="127.65" r="2.5" fill="#1d507e" stroke="#0a2a48" stroke-width="0.6"/>
<circle cx="72.39" cy="127.63" r="2.5" fill="#1d507e" stroke="#0a2a48" stroke-width="0.6"/>
<circle cx="73.29" cy="127.61" r="2.5" fill="#1d507e" stroke="#0a2a48" stroke-width="0.6"/>
<circle cx="74.19" cy="127.57" r="2.5" fill="#1d507e" stroke="#0a2a48" stroke-width="0.6"/>
<circle cx="75.09" cy="127.45" r="2.5" fill="#1d507e" stroke="#0a2a48" stroke-width="0.6"/>
<circle cx="76.00" cy="127.25" r="2.5" fill="#1d507e" stroke="#0a2a48" stroke-width="0.6"/>
<circle cx="76.90" cy="126.97" r="2.5" fill="#1d507e" stroke="#0a2a48" stroke-width="0.6"/>
<circle cx="77.80" cy="126.63" r="2.5" fill="#1d507e" stroke="#0a2a48" stroke-width="0.6"/>
<circle cx="78.70" cy="126.24" r="2.5" fill="#1d507e" stroke="#0a2a48" stroke-width="0.6"/>
<circle cx="79.60" cy="125.81" r="2.5" fill="#1d507e" stroke="#0a2a48" stroke-width="0.6"/>
<circle cx="80.51" cy="125.36" r="2.5" fill="#1d507e" stroke="#0a2a48" stroke-width="0.6"/>
<circle cx="81.41" cy="124.88" r="2.5" fill="#1d507e" stroke="#0a2a48" stroke-width="0.6"/>
<circle cx="82.31" cy="124.34" r="2.5" fill="#1d507e" stroke="#0a2a48" stroke-width="0.6"/>
<circle cx="83.21" cy="123.68" r="2.5" fill="#1d507e" stroke="#0a2a48" stroke-width="0.6"/>
<circle cx="84.11" cy="122.89" r="2.5" fill="#1d507e" stroke="#0a2a48" stroke-width="0.6"/>
<circle cx="85.02" cy="122.00" r="2.5" fill="#1d507e" stroke="#0a2a48" stroke-width="0.6"/>
<circle cx="85.92" cy="121.02" r="2.5" fill="#1d507e" stroke="#0a2a48" stroke-width="0.6"/>
<circle cx="86.82" cy="119.96" r="2.5" fill="#1d507e" stroke="#0a2a48" stroke-width="0.6"/>
<circle cx="87.72" cy="118.82" r="2.5" fill="#1d507e" stroke="#0a2a48" stroke-width="0.6"/>
<circle cx="88.62" cy="117.62" r="2.5" fill="#1d507e" stroke="#0a2a48" stroke-width="0.6"/>
<circle cx="89.53" cy="116.37" r="2.5" fill="#1d507e" stroke="#0a2a48" stroke-width="0.6"/>
<circle cx="90.43" cy="115.03" r="2.5" fill="#1d507e" stroke="#0a2a48" stroke-width="0.6"/>
<circle cx="91.33" cy="113.50" r="2.5" fill="#1d507e" stroke="#0a2a48" stroke-width="0.6"/>
<circle cx="92.23" cy="111.80" r="2.5" fill="#1d507e" stroke="#0a2a48" stroke-width="0.6"/>
<circle cx="93.13" cy="109.94" r="2.5" fill="#1d507e" stroke="#0a2a48" stroke-width="0.6"/>
<circle cx="94.04" cy="107.93" r="2.5" fill="#1d507e" stroke="#0a2a48" stroke-width="0.6"/>
<circle cx="94.94" cy="105.79" r="2.5" fill="#1d507e" stroke="#0a2a48" stroke-width="0.6"/>
<circle cx="95.84" cy="103.47" r="2.5" fill="#1d507e" stroke="#0a2a48" stroke-width="0.6"/>
<circle cx="96.74" cy="100.63" r="2.5" fill="#1d507e" stroke="#0a2a48" stroke-width="0.6"/>
<circle cx="97.64" cy="97.50" r="2.5" fill="#1d507e" stroke="#0a2a48" stroke-width="0.6"/>
<circle cx="98.54" cy="94.39" r="2.5" fill="#1d507e" stroke="#0a2a48" stroke-width="0.6"/>
<circle cx="99.45" cy="91.62" r="2.5" fill="#1d507e" stroke="#0a2a48" stroke-width="0.6"/>
<circle cx="100.35" cy="89.13" r="2.5" fill="#1d507e" stroke="#0a2a48" stroke-width="0.6"/>
<circle cx="101.25" cy="86.75" r="2.5" fill="#1d507e" stroke="#0a2a48" stroke-width="0.6"/>
<circle cx="102.15" cy="84.86" r="2.5" fill="#1d507e" stroke="#0a2a48" stroke-width="0.6"/>
<circle cx="103.05" cy="83.70" r="2.5" fill="#1d507e" stroke="#0a2a48" stroke-width="0.6"/>
<circle cx="103.96" cy="82.73" r="2.5" fill="#1d507e" stroke="#0a2a48" stroke-width="0.6"/>
<circle cx="104.86" cy="82.02" r="2.5" fill="#1d507e" stroke="#0a2a48" stroke-width="0.6"/>
<circle cx="105.76" cy="81.71" r="2.5" fill="#1d507e" stroke="#0a2a48" stroke-width="0.6"/>
<circle cx="106.66" cy="82.05" r="2.5" fill="#1d507e" stroke="#0a2a48" stroke-width="0.6"/>
<circle cx="107.56" cy="83.06" r="2.5" fill="#1d507e" stroke="#0a2a48" stroke-width="0.6"/>
<circle cx="108.47" cy="84.55" r="2.5" fill="#1d507e" stroke="#0a2a48" stroke-width="0.6"/>
<circle cx="109.37" cy="86.30" r="2.5" fill="#1d507e" stroke="#0a2a48" stroke-width="0.6"/>
<circle cx="110.27" cy="88.10" r="2.5" fill="#1d507e" stroke="#0a2a48" stroke-width="0.6"/>
<circle cx="111.17" cy="89.75" r="2.5" fill="#1d507e" stroke="#0a2a48" stroke-width="0.6"/>
<circle cx="112.07" cy="91.09" r="2.5" fill="#1d507e" stroke="#0a2a48" stroke-width="0.6"/>
<circle cx="112.98" cy="92.34" r="2.5" fill="#1d507e" stroke="#0a2a48" stroke-width="0.6"/>
<circle cx="113.88" cy="93.57" r="2.5" fill="#1d507e" stroke="#0a2a48" stroke-width="0.6"/>
<circle cx="114.78" cy="94.78" r="2.5" fill="#1d507e" stroke="#0a2a48" stroke-width="0.6"/>
<circle cx="115.68" cy="96.01" r="2.5" fill="#1d507e" stroke="#0a2a48" stroke-width="0.6"/>
<circle cx="116.58" cy="97.26" r="2.5" fill="#1d507e" stroke="#0a2a48" stroke-width="0.6"/>
<circle cx="117.49" cy="98.57" r="2.5" fill="#1d507e" stroke="#0a2a48" stroke-width="0.6"/>
<circle cx="118.39" cy="99.97" r="2.5" fill="#1d507e" stroke="#0a2a48" stroke-width="0.6"/>
<circle cx="119.29" cy="101.46" r="2.5" fill="#1d507e" stroke="#0a2a48" stroke-width="0.6"/>
<circle cx="120.19" cy="103.01" r="2.5" fill="#1d507e" stroke="#0a2a48" stroke-width="0.6"/>
<circle cx="121.09" cy="104.56" r="2.5" fill="#1d507e" stroke="#0a2a48" stroke-width="0.6"/>
<circle cx="121.99" cy="106.05" r="2.5" fill="#1d507e" stroke="#0a2a48" stroke-width="0.6"/>
<circle cx="122.90" cy="107.44" r="2.5" fill="#1d507e" stroke="#0a2a48" stroke-width="0.6"/>
<circle cx="123.80" cy="108.68" r="2.5" fill="#1d507e" stroke="#0a2a48" stroke-width="0.6"/>
<circle cx="124.70" cy="109.85" r="2.5" fill="#1d507e" stroke="#0a2a48" stroke-width="0.6"/>
<circle cx="125.60" cy="110.95" r="2.5" fill="#1d507e" stroke="#0a2a48" stroke-width="0.6"/>
<circle cx="126.50" cy="112.01" r="2.5" fill="#1d507e" stroke="#0a2a48" stroke-width="0.6"/>
<circle cx="127.41" cy="113.02" r="2.5" fill="#1d507e" stroke="#0a2a48" stroke-width="0.6"/>
<circle cx="128.31" cy="114.00" r="2.5" fill="#1d507e" stroke="#0a2a48" stroke-width="0.6"/>
<circle cx="129.21" cy="114.96" r="2.5" fill="#1d507e" stroke="#0a2a48" stroke-width="0.6"/>
<circle cx="130.11" cy="115.91" r="2.5" fill="#1d507e" stroke="#0a2a48" stroke-width="0.6"/>
<circle cx="131.01" cy="116.85" r="2.5" fill="#1d507e" stroke="#0a2a48" stroke-width="0.6"/>
<circle cx="131.92" cy="117.76" r="2.5" fill="#1d507e" stroke="#0a2a48" stroke-width="0.6"/>
<circle cx="132.82" cy="118.62" r="2.5" fill="#1d507e" stroke="#0a2a48" stroke-width="0.6"/>
<circle cx="133.72" cy="119.43" r="2.5" fill="#1d507e" stroke="#0a2a48" stroke-width="0.6"/>
<circle cx="134.62" cy="120.15" r="2.5" fill="#1d507e" stroke="#0a2a48" stroke-width="0.6"/>
<circle cx="135.52" cy="120.81" r="2.5" fill="#1d507e" stroke="#0a2a48" stroke-width="0.6"/>
<circle cx="136.43" cy="121.43" r="2.5" fill="#1d507e" stroke="#0a2a48" stroke-width="0.6"/>
<circle cx="137.33" cy="122.02" r="2.5" fill="#1d507e" stroke="#0a2a48" stroke-width="0.6"/>
<circle cx="138.23" cy="122.57" r="2.5" fill="#1d507e" stroke="#0a2a48" stroke-width="0.6"/>
<circle cx="139.13" cy="123.07" r="2.5" fill="#1d507e" stroke="#0a2a48" stroke-width="0.6"/>
<circle cx="140.03" cy="123.52" r="2.5" fill="#1d507e" stroke="#0a2a48" stroke-width="0.6"/>
<circle cx="140.93" cy="123.90" r="2.5" fill="#1d507e" stroke="#0a2a48" stroke-width="0.6"/>
<circle cx="141.84" cy="124.24" r="2.5" fill="#1d507e" stroke="#0a2a48" stroke-width="0.6"/>
<circle cx="142.74" cy="124.56" r="2.5" fill="#1d507e" stroke="#0a2a48" stroke-width="0.6"/>
<circle cx="143.64" cy="124.86" r="2.5" fill="#1d507e" stroke="#0a2a48" stroke-width="0.6"/>
<circle cx="144.54" cy="125.13" r="2.5" fill="#1d507e" stroke="#0a2a48" stroke-width="0.6"/>
<circle cx="145.44" cy="125.39" r="2.5" fill="#1d507e" stroke="#0a2a48" stroke-width="0.6"/>
<circle cx="146.35" cy="125.62" r="2.5" fill="#1d507e" stroke="#0a2a48" stroke-width="0.6"/>
<circle cx="147.25" cy="125.83" r="2.5" fill="#1d507e" stroke="#0a2a48" stroke-width="0.6"/>
<circle cx="148.15" cy="126.02" r="2.5" fill="#1d507e" stroke="#0a2a48" stroke-width="0.6"/>
<circle cx="149.05" cy="126.18" r="2.5" fill="#1d507e" stroke="#0a2a48" stroke-width="0.6"/>
<circle cx="149.95" cy="126.34" r="2.5" fill="#1d507e" stroke="#0a2a48" stroke-width="0.6"/>
<circle cx="150.86" cy="126.49" r="2.5" fill="#1d507e" stroke="#0a2a48" stroke-width="0.6"/>
<circle cx="151.76" cy="126.63" r="2.5" fill="#1d507e" stroke="#0a2a48" stroke-width="0.6"/>
<circle cx="152.66" cy="126.77" r="2.5" fill="#1d507e" stroke="#0a2a48" stroke-width="0.6"/>
<circle cx="153.56" cy="126.89" r="2.5" fill="#1d507e" stroke="#0a2a48" stroke-width="0.6"/>
<circle cx="154.46" cy="127.00" r="2.5" fill="#1d507e" stroke="#0a2a48" stroke-width="0.6"/>
<circle cx="155.37" cy="127.10" r="2.5" fill="#1d507e" stroke="#0a2a48" stroke-width="0.6"/>
<circle cx="156.27" cy="127.19" r="2.5" fill="#1d507e" stroke="#0a2a48" stroke-width="0.6"/>
<circle cx="157.17" cy="127.25" r="2.5" fill="#1d507e" stroke="#0a2a48" stroke-width="0.6"/>
<circle cx="158.07" cy="127.30" r="2.5" fill="#1d507e" stroke="#0a2a48" stroke-width="0.6"/>
<circle cx="158.97" cy="127.33" r="2.5" fill="#1d507e" stroke="#0a2a48" stroke-width="0.6"/>
<circle cx="159.88" cy="127.36" r="2.5" fill="#1d507e" stroke="#0a2a48" stroke-width="0.6"/>
<circle cx="160.78" cy="127.39" r="2.5" fill="#1d507e" stroke="#0a2a48" stroke-width="0.6"/>
<circle cx="161.68" cy="127.41" r="2.5" fill="#1d507e" stroke="#0a2a48" stroke-width="0.6"/>
<circle cx="162.58" cy="127.43" r="2.5" fill="#1d507e" stroke="#0a2a48" stroke-width="0.6"/>
<circle cx="163.48" cy="127.45" r="2.5" fill="#1d507e" stroke="#0a2a48" stroke-width="0.6"/>
<circle cx="164.38" cy="127.47" r="2.5" fill="#1d507e" stroke="#0a2a48" stroke-width="0.6"/>
<circle cx="165.29" cy="127.49" r="2.5" fill="#1d507e" stroke="#0a2a48" stroke-width="0.6"/>
<circle cx="166.19" cy="127.50" r="2.5" fill="#1d507e" stroke="#0a2a48" stroke-width="0.6"/>
<circle cx="167.09" cy="127.51" r="2.5" fill="#1d507e" stroke="#0a2a48" stroke-width="0.6"/>
<circle cx="167.99" cy="127.53" r="2.5" fill="#1d507e" stroke="#0a2a48" stroke-width="0.6"/>
<circle cx="168.89" cy="127.54" r="2.5" fill="#1d507e" stroke="#0a2a48" stroke-width="0.6"/>
<circle cx="169.80" cy="127.56" r="2.5" fill="#1d507e" stroke="#0a2a48" stroke-width="0.6"/>
<circle cx="170.70" cy="127.58" r="2.5" fill="#1d507e" stroke="#0a2a48" stroke-width="0.6"/>
<circle cx="171.60" cy="127.59" r="2.5" fill="#1d507e" stroke="#0a2a48" stroke-width="0.6"/>
<line x1="228.70" y1="31.50" x2="228.70" y2="134.00" stroke="#1e1e1e" stroke-width="1.35"/>
<line x1="225.70" y1="129.60" x2="228.70" y2="129.60" stroke="#1e1e1e" stroke-width="1.0"/>
<text x="221.90" y="132.70" font-size="8.7" text-anchor="end" font-weight="normal" fill="#333333" >0</text>
<line x1="225.70" y1="110.53" x2="228.70" y2="110.53" stroke="#1e1e1e" stroke-width="1.0"/>
<text x="221.90" y="113.63" font-size="8.7" text-anchor="end" font-weight="normal" fill="#333333" >5</text>
<line x1="225.70" y1="91.46" x2="228.70" y2="91.46" stroke="#1e1e1e" stroke-width="1.0"/>
<text x="221.90" y="94.56" font-size="8.7" text-anchor="end" font-weight="normal" fill="#333333" >10</text>
<line x1="225.70" y1="72.39" x2="228.70" y2="72.39" stroke="#1e1e1e" stroke-width="1.0"/>
<text x="221.90" y="75.49" font-size="8.7" text-anchor="end" font-weight="normal" fill="#333333" >15</text>
<line x1="225.70" y1="53.32" x2="228.70" y2="53.32" stroke="#1e1e1e" stroke-width="1.0"/>
<text x="221.90" y="56.42" font-size="8.7" text-anchor="end" font-weight="normal" fill="#333333" >20</text>
<line x1="225.70" y1="34.25" x2="228.70" y2="34.25" stroke="#1e1e1e" stroke-width="1.0"/>
<text x="221.90" y="37.35" font-size="8.7" text-anchor="end" font-weight="normal" fill="#333333" >25</text>
<line x1="228.70" y1="134.00" x2="335.30" y2="134.00" stroke="#1e1e1e" stroke-width="1.35"/>
<text transform="translate(202.40,82.10) rotate(-90)" x="0" y="0" font-size="8.3" text-anchor="middle" dominant-baseline="central" fill="#333333" textLength="46.2" lengthAdjust="spacingAndGlyphs">Lag time (min)</text>
<line x1="242.00" y1="91.50" x2="256.00" y2="91.50" stroke="#333" stroke-width="0.8"/>
<line x1="266.00" y1="99.50" x2="280.00" y2="99.50" stroke="#333" stroke-width="0.8"/>
<line x1="289.00" y1="99.00" x2="303.00" y2="99.00" stroke="#333" stroke-width="0.8"/>
<line x1="312.00" y1="107.00" x2="326.00" y2="107.00" stroke="#333" stroke-width="0.8"/>
<circle cx="250.30" cy="73.10" r="1.9" fill="#1d507e" stroke="#0a2a48" stroke-width="0.65"/>
<circle cx="247.20" cy="74.60" r="1.9" fill="#1d507e" stroke="#0a2a48" stroke-width="0.65"/>
<circle cx="248.70" cy="78.70" r="1.9" fill="#1d507e" stroke="#0a2a48" stroke-width="0.65"/>
<circle cx="248.20" cy="82.80" r="1.9" fill="#1d507e" stroke="#0a2a48" stroke-width="0.65"/>
<circle cx="244.20" cy="87.40" r="1.9" fill="#1d507e" stroke="#0a2a48" stroke-width="0.65"/>
<circle cx="248.20" cy="86.30" r="1.9" fill="#1d507e" stroke="#0a2a48" stroke-width="0.65"/>
<circle cx="254.30" cy="86.30" r="1.9" fill="#1d507e" stroke="#0a2a48" stroke-width="0.65"/>
<circle cx="242.60" cy="89.90" r="1.9" fill="#1d507e" stroke="#0a2a48" stroke-width="0.65"/>
<circle cx="246.20" cy="89.90" r="1.9" fill="#1d507e" stroke="#0a2a48" stroke-width="0.65"/>
<circle cx="250.30" cy="89.40" r="1.9" fill="#1d507e" stroke="#0a2a48" stroke-width="0.65"/>
<circle cx="243.60" cy="93.00" r="1.9" fill="#1d507e" stroke="#0a2a48" stroke-width="0.65"/>
<circle cx="248.20" cy="92.50" r="1.9" fill="#1d507e" stroke="#0a2a48" stroke-width="0.65"/>
<circle cx="252.30" cy="92.50" r="1.9" fill="#1d507e" stroke="#0a2a48" stroke-width="0.65"/>
<circle cx="245.20" cy="95.50" r="1.9" fill="#1d507e" stroke="#0a2a48" stroke-width="0.65"/>
<circle cx="249.30" cy="95.50" r="1.9" fill="#1d507e" stroke="#0a2a48" stroke-width="0.65"/>
<circle cx="247.20" cy="98.60" r="1.9" fill="#1d507e" stroke="#0a2a48" stroke-width="0.65"/>
<circle cx="251.30" cy="98.60" r="1.9" fill="#1d507e" stroke="#0a2a48" stroke-width="0.65"/>
<circle cx="244.20" cy="101.60" r="1.9" fill="#1d507e" stroke="#0a2a48" stroke-width="0.65"/>
<circle cx="248.20" cy="101.60" r="1.9" fill="#1d507e" stroke="#0a2a48" stroke-width="0.65"/>
<circle cx="252.30" cy="101.60" r="1.9" fill="#1d507e" stroke="#0a2a48" stroke-width="0.65"/>
<circle cx="244.20" cy="104.20" r="1.9" fill="#1d507e" stroke="#0a2a48" stroke-width="0.65"/>
<circle cx="253.30" cy="104.20" r="1.9" fill="#1d507e" stroke="#0a2a48" stroke-width="0.65"/>
<circle cx="248.70" cy="103.70" r="1.9" fill="#1d507e" stroke="#0a2a48" stroke-width="0.65"/>
<circle cx="270.40" cy="89.10" r="1.9" fill="#c51c3e" stroke="#7d0c22" stroke-width="0.65"/>
<circle cx="273.80" cy="89.10" r="1.9" fill="#c51c3e" stroke="#7d0c22" stroke-width="0.65"/>
<circle cx="276.40" cy="92.50" r="1.9" fill="#c51c3e" stroke="#7d0c22" stroke-width="0.65"/>
<circle cx="276.00" cy="95.90" r="1.9" fill="#c51c3e" stroke="#7d0c22" stroke-width="0.65"/>
<circle cx="272.60" cy="96.70" r="1.9" fill="#c51c3e" stroke="#7d0c22" stroke-width="0.65"/>
<circle cx="268.70" cy="95.90" r="1.9" fill="#c51c3e" stroke="#7d0c22" stroke-width="0.65"/>
<circle cx="267.00" cy="100.60" r="1.9" fill="#c51c3e" stroke="#7d0c22" stroke-width="0.65"/>
<circle cx="270.90" cy="100.60" r="1.9" fill="#c51c3e" stroke="#7d0c22" stroke-width="0.65"/>
<circle cx="274.70" cy="100.60" r="1.9" fill="#c51c3e" stroke="#7d0c22" stroke-width="0.65"/>
<circle cx="277.60" cy="100.60" r="1.9" fill="#c51c3e" stroke="#7d0c22" stroke-width="0.65"/>
<circle cx="266.20" cy="104.20" r="1.9" fill="#c51c3e" stroke="#7d0c22" stroke-width="0.65"/>
<circle cx="270.00" cy="104.20" r="1.9" fill="#c51c3e" stroke="#7d0c22" stroke-width="0.65"/>
<circle cx="273.80" cy="104.20" r="1.9" fill="#c51c3e" stroke="#7d0c22" stroke-width="0.65"/>
<circle cx="278.00" cy="104.20" r="1.9" fill="#c51c3e" stroke="#7d0c22" stroke-width="0.65"/>
<circle cx="265.30" cy="107.90" r="1.9" fill="#c51c3e" stroke="#7d0c22" stroke-width="0.65"/>
<circle cx="268.70" cy="107.90" r="1.9" fill="#c51c3e" stroke="#7d0c22" stroke-width="0.65"/>
<circle cx="273.00" cy="107.90" r="1.9" fill="#c51c3e" stroke="#7d0c22" stroke-width="0.65"/>
<circle cx="277.60" cy="107.90" r="1.9" fill="#c51c3e" stroke="#7d0c22" stroke-width="0.65"/>
<circle cx="268.70" cy="111.20" r="1.9" fill="#c51c3e" stroke="#7d0c22" stroke-width="0.65"/>
<circle cx="272.60" cy="111.20" r="1.9" fill="#c51c3e" stroke="#7d0c22" stroke-width="0.65"/>
<circle cx="276.00" cy="111.20" r="1.9" fill="#c51c3e" stroke="#7d0c22" stroke-width="0.65"/>
<circle cx="267.90" cy="114.60" r="1.9" fill="#c51c3e" stroke="#7d0c22" stroke-width="0.65"/>
<circle cx="295.40" cy="74.60" r="1.9" fill="#92b0c7" stroke="#48657e" stroke-width="0.65"/>
<circle cx="295.40" cy="79.70" r="1.9" fill="#92b0c7" stroke="#48657e" stroke-width="0.65"/>
<circle cx="295.70" cy="95.00" r="1.9" fill="#92b0c7" stroke="#48657e" stroke-width="0.65"/>
<circle cx="292.70" cy="98.60" r="1.9" fill="#92b0c7" stroke="#48657e" stroke-width="0.65"/>
<circle cx="298.30" cy="98.10" r="1.9" fill="#92b0c7" stroke="#48657e" stroke-width="0.65"/>
<circle cx="290.10" cy="101.10" r="1.9" fill="#92b0c7" stroke="#48657e" stroke-width="0.65"/>
<circle cx="294.70" cy="101.60" r="1.9" fill="#92b0c7" stroke="#48657e" stroke-width="0.65"/>
<circle cx="300.80" cy="100.60" r="1.9" fill="#92b0c7" stroke="#48657e" stroke-width="0.65"/>
<circle cx="291.10" cy="104.20" r="1.9" fill="#92b0c7" stroke="#48657e" stroke-width="0.65"/>
<circle cx="296.20" cy="104.20" r="1.9" fill="#92b0c7" stroke="#48657e" stroke-width="0.65"/>
<circle cx="301.30" cy="103.70" r="1.9" fill="#92b0c7" stroke="#48657e" stroke-width="0.65"/>
<circle cx="293.20" cy="107.20" r="1.9" fill="#92b0c7" stroke="#48657e" stroke-width="0.65"/>
<circle cx="297.80" cy="106.70" r="1.9" fill="#92b0c7" stroke="#48657e" stroke-width="0.65"/>
<circle cx="294.20" cy="109.80" r="1.9" fill="#92b0c7" stroke="#48657e" stroke-width="0.65"/>
<circle cx="297.00" cy="110.50" r="1.9" fill="#92b0c7" stroke="#48657e" stroke-width="0.65"/>
<circle cx="318.70" cy="97.60" r="1.9" fill="#e6a0ad" stroke="#8c4a5a" stroke-width="0.65"/>
<circle cx="321.20" cy="98.60" r="1.9" fill="#e6a0ad" stroke="#8c4a5a" stroke-width="0.65"/>
<circle cx="316.60" cy="100.60" r="1.9" fill="#e6a0ad" stroke="#8c4a5a" stroke-width="0.65"/>
<circle cx="320.20" cy="102.10" r="1.9" fill="#e6a0ad" stroke="#8c4a5a" stroke-width="0.65"/>
<circle cx="318.70" cy="104.70" r="1.9" fill="#e6a0ad" stroke="#8c4a5a" stroke-width="0.65"/>
<circle cx="322.20" cy="105.20" r="1.9" fill="#e6a0ad" stroke="#8c4a5a" stroke-width="0.65"/>
<circle cx="315.60" cy="106.20" r="1.9" fill="#e6a0ad" stroke="#8c4a5a" stroke-width="0.65"/>
<circle cx="313.60" cy="108.80" r="1.9" fill="#e6a0ad" stroke="#8c4a5a" stroke-width="0.65"/>
<circle cx="317.60" cy="108.30" r="1.9" fill="#e6a0ad" stroke="#8c4a5a" stroke-width="0.65"/>
<circle cx="321.70" cy="108.30" r="1.9" fill="#e6a0ad" stroke="#8c4a5a" stroke-width="0.65"/>
<circle cx="325.30" cy="108.80" r="1.9" fill="#e6a0ad" stroke="#8c4a5a" stroke-width="0.65"/>
<circle cx="314.60" cy="111.80" r="1.9" fill="#e6a0ad" stroke="#8c4a5a" stroke-width="0.65"/>
<circle cx="318.70" cy="111.80" r="1.9" fill="#e6a0ad" stroke="#8c4a5a" stroke-width="0.65"/>
<circle cx="322.70" cy="111.80" r="1.9" fill="#e6a0ad" stroke="#8c4a5a" stroke-width="0.65"/>
<circle cx="316.60" cy="114.40" r="1.9" fill="#e6a0ad" stroke="#8c4a5a" stroke-width="0.65"/>
<circle cx="320.70" cy="114.40" r="1.9" fill="#e6a0ad" stroke="#8c4a5a" stroke-width="0.65"/>
<circle cx="318.70" cy="116.50" r="1.9" fill="#e6a0ad" stroke="#8c4a5a" stroke-width="0.65"/>
<text x="252.30" y="40.50" font-size="8.3" fill="#383838" style="stroke-width:0.12px" textLength="35.60" lengthAdjust="spacingAndGlyphs"><tspan font-style="italic">P</tspan> &lt; .0001</text>
<polyline points="248.50,50.00 248.50,44.20 295.80,44.20 295.80,50.00" fill="none" stroke="#7c7c7c" stroke-width="1.0"/>
<text x="242.30" y="63.20" font-size="8.3" fill="#383838" style="stroke-width:0.12px" textLength="35.40" lengthAdjust="spacingAndGlyphs"><tspan font-style="italic">P</tspan> &lt; .0001</text>
<polyline points="248.50,68.70 248.50,64.80 272.90,64.80 272.90,80.20" fill="none" stroke="#7c7c7c" stroke-width="1.0"/>
<text x="288.80" y="63.20" font-size="8.3" fill="#383838" style="stroke-width:0.12px" textLength="35.60" lengthAdjust="spacingAndGlyphs"><tspan font-style="italic">P</tspan> &lt; .0001</text>
<polyline points="295.80,70.60 295.80,64.80 319.00,64.80 319.00,90.80" fill="none" stroke="#7c7c7c" stroke-width="1.0"/>
<line x1="408.30" y1="33.00" x2="408.30" y2="133.80" stroke="#1e1e1e" stroke-width="1.35"/>
<line x1="405.30" y1="129.70" x2="408.30" y2="129.70" stroke="#1e1e1e" stroke-width="1.0"/>
<text x="401.50" y="132.80" font-size="8.7" text-anchor="end" font-weight="normal" fill="#333333" >0</text>
<line x1="405.30" y1="106.40" x2="408.30" y2="106.40" stroke="#1e1e1e" stroke-width="1.0"/>
<text x="401.50" y="109.50" font-size="8.7" text-anchor="end" font-weight="normal" fill="#333333" >1000</text>
<line x1="405.30" y1="83.10" x2="408.30" y2="83.10" stroke="#1e1e1e" stroke-width="1.0"/>
<text x="401.50" y="86.20" font-size="8.7" text-anchor="end" font-weight="normal" fill="#333333" >2000</text>
<line x1="405.30" y1="59.80" x2="408.30" y2="59.80" stroke="#1e1e1e" stroke-width="1.0"/>
<text x="401.50" y="62.90" font-size="8.7" text-anchor="end" font-weight="normal" fill="#333333" >3000</text>
<line x1="405.30" y1="36.50" x2="408.30" y2="36.50" stroke="#1e1e1e" stroke-width="1.0"/>
<text x="401.50" y="39.60" font-size="8.7" text-anchor="end" font-weight="normal" fill="#333333" >4000</text>
<line x1="408.30" y1="133.80" x2="512.50" y2="133.80" stroke="#1e1e1e" stroke-width="1.35"/>
<text transform="translate(371.60,83.70) rotate(-90)" x="0" y="0" font-size="8.3" text-anchor="middle" dominant-baseline="central" fill="#333333" textLength="43.3" lengthAdjust="spacingAndGlyphs">ETP (nM min)</text>
<circle cx="426.30" cy="74.00" r="1.9" fill="#1d507e" stroke="#0a2a48" stroke-width="0.65"/>
<circle cx="429.40" cy="72.80" r="1.9" fill="#1d507e" stroke="#0a2a48" stroke-width="0.65"/>
<circle cx="433.10" cy="78.90" r="1.9" fill="#1d507e" stroke="#0a2a48" stroke-width="0.65"/>
<circle cx="422.00" cy="82.00" r="1.9" fill="#1d507e" stroke="#0a2a48" stroke-width="0.65"/>
<circle cx="425.10" cy="81.40" r="1.9" fill="#1d507e" stroke="#0a2a48" stroke-width="0.65"/>
<circle cx="431.20" cy="81.40" r="1.9" fill="#1d507e" stroke="#0a2a48" stroke-width="0.65"/>
<circle cx="433.70" cy="80.20" r="1.9" fill="#1d507e" stroke="#0a2a48" stroke-width="0.65"/>
<circle cx="430.00" cy="84.50" r="1.9" fill="#1d507e" stroke="#0a2a48" stroke-width="0.65"/>
<circle cx="433.10" cy="84.50" r="1.9" fill="#1d507e" stroke="#0a2a48" stroke-width="0.65"/>
<circle cx="428.80" cy="87.60" r="1.9" fill="#1d507e" stroke="#0a2a48" stroke-width="0.65"/>
<circle cx="431.90" cy="87.60" r="1.9" fill="#1d507e" stroke="#0a2a48" stroke-width="0.65"/>
<circle cx="426.30" cy="90.00" r="1.9" fill="#1d507e" stroke="#0a2a48" stroke-width="0.65"/>
<circle cx="428.20" cy="92.50" r="1.9" fill="#1d507e" stroke="#0a2a48" stroke-width="0.65"/>
<circle cx="431.20" cy="92.50" r="1.9" fill="#1d507e" stroke="#0a2a48" stroke-width="0.65"/>
<circle cx="425.70" cy="95.60" r="1.9" fill="#1d507e" stroke="#0a2a48" stroke-width="0.65"/>
<circle cx="428.80" cy="96.20" r="1.9" fill="#1d507e" stroke="#0a2a48" stroke-width="0.65"/>
<circle cx="432.50" cy="96.20" r="1.9" fill="#1d507e" stroke="#0a2a48" stroke-width="0.65"/>
<circle cx="427.50" cy="98.60" r="1.9" fill="#1d507e" stroke="#0a2a48" stroke-width="0.65"/>
<circle cx="430.00" cy="99.30" r="1.9" fill="#1d507e" stroke="#0a2a48" stroke-width="0.65"/>
<circle cx="428.20" cy="101.70" r="1.9" fill="#1d507e" stroke="#0a2a48" stroke-width="0.65"/>
<circle cx="428.20" cy="106.00" r="1.9" fill="#1d507e" stroke="#0a2a48" stroke-width="0.65"/>
<circle cx="422.00" cy="109.10" r="1.9" fill="#1d507e" stroke="#0a2a48" stroke-width="0.65"/>
<circle cx="425.10" cy="110.30" r="1.9" fill="#1d507e" stroke="#0a2a48" stroke-width="0.65"/>
<circle cx="433.10" cy="109.70" r="1.9" fill="#1d507e" stroke="#0a2a48" stroke-width="0.65"/>
<circle cx="423.20" cy="112.80" r="1.9" fill="#1d507e" stroke="#0a2a48" stroke-width="0.65"/>
<circle cx="427.50" cy="113.40" r="1.9" fill="#1d507e" stroke="#0a2a48" stroke-width="0.65"/>
<circle cx="431.20" cy="112.80" r="1.9" fill="#1d507e" stroke="#0a2a48" stroke-width="0.65"/>
<circle cx="433.70" cy="115.90" r="1.9" fill="#1d507e" stroke="#0a2a48" stroke-width="0.65"/>
<circle cx="422.60" cy="114.60" r="1.9" fill="#1d507e" stroke="#0a2a48" stroke-width="0.65"/>
<circle cx="452.20" cy="69.70" r="1.9" fill="#c51c3e" stroke="#7d0c22" stroke-width="0.65"/>
<circle cx="447.90" cy="73.40" r="1.9" fill="#c51c3e" stroke="#7d0c22" stroke-width="0.65"/>
<circle cx="454.00" cy="72.80" r="1.9" fill="#c51c3e" stroke="#7d0c22" stroke-width="0.65"/>
<circle cx="451.00" cy="75.20" r="1.9" fill="#c51c3e" stroke="#7d0c22" stroke-width="0.65"/>
<circle cx="453.40" cy="78.30" r="1.9" fill="#c51c3e" stroke="#7d0c22" stroke-width="0.65"/>
<circle cx="444.80" cy="80.80" r="1.9" fill="#c51c3e" stroke="#7d0c22" stroke-width="0.65"/>
<circle cx="456.50" cy="80.20" r="1.9" fill="#c51c3e" stroke="#7d0c22" stroke-width="0.65"/>
<circle cx="447.90" cy="83.20" r="1.9" fill="#c51c3e" stroke="#7d0c22" stroke-width="0.65"/>
<circle cx="452.20" cy="83.20" r="1.9" fill="#c51c3e" stroke="#7d0c22" stroke-width="0.65"/>
<circle cx="455.90" cy="82.60" r="1.9" fill="#c51c3e" stroke="#7d0c22" stroke-width="0.65"/>
<circle cx="449.70" cy="85.70" r="1.9" fill="#c51c3e" stroke="#7d0c22" stroke-width="0.65"/>
<circle cx="446.00" cy="90.60" r="1.9" fill="#c51c3e" stroke="#7d0c22" stroke-width="0.65"/>
<circle cx="451.00" cy="91.90" r="1.9" fill="#c51c3e" stroke="#7d0c22" stroke-width="0.65"/>
<circle cx="454.60" cy="91.20" r="1.9" fill="#c51c3e" stroke="#7d0c22" stroke-width="0.65"/>
<circle cx="448.50" cy="98.00" r="1.9" fill="#c51c3e" stroke="#7d0c22" stroke-width="0.65"/>
<circle cx="456.50" cy="98.60" r="1.9" fill="#c51c3e" stroke="#7d0c22" stroke-width="0.65"/>
<circle cx="451.00" cy="101.70" r="1.9" fill="#c51c3e" stroke="#7d0c22" stroke-width="0.65"/>
<circle cx="453.40" cy="100.50" r="1.9" fill="#c51c3e" stroke="#7d0c22" stroke-width="0.65"/>
<circle cx="449.00" cy="87.50" r="1.9" fill="#c51c3e" stroke="#7d0c22" stroke-width="0.65"/>
<circle cx="445.00" cy="95.00" r="1.9" fill="#c51c3e" stroke="#7d0c22" stroke-width="0.65"/>
<circle cx="451.60" cy="105.40" r="1.9" fill="#c51c3e" stroke="#7d0c22" stroke-width="0.65"/>
<circle cx="451.00" cy="117.70" r="1.9" fill="#c51c3e" stroke="#7d0c22" stroke-width="0.65"/>
<circle cx="473.80" cy="53.40" r="1.9" fill="#92b0c7" stroke="#48657e" stroke-width="0.65"/>
<circle cx="476.10" cy="57.90" r="1.9" fill="#92b0c7" stroke="#48657e" stroke-width="0.65"/>
<circle cx="472.20" cy="61.80" r="1.9" fill="#92b0c7" stroke="#48657e" stroke-width="0.65"/>
<circle cx="472.20" cy="67.10" r="1.9" fill="#92b0c7" stroke="#48657e" stroke-width="0.65"/>
<circle cx="475.30" cy="70.20" r="1.9" fill="#92b0c7" stroke="#48657e" stroke-width="0.65"/>
<circle cx="468.40" cy="74.00" r="1.9" fill="#92b0c7" stroke="#48657e" stroke-width="0.65"/>
<circle cx="475.30" cy="75.50" r="1.9" fill="#92b0c7" stroke="#48657e" stroke-width="0.65"/>
<circle cx="479.10" cy="77.00" r="1.9" fill="#92b0c7" stroke="#48657e" stroke-width="0.65"/>
<circle cx="468.40" cy="78.60" r="1.9" fill="#92b0c7" stroke="#48657e" stroke-width="0.65"/>
<circle cx="472.20" cy="80.10" r="1.9" fill="#92b0c7" stroke="#48657e" stroke-width="0.65"/>
<circle cx="476.80" cy="80.10" r="1.9" fill="#92b0c7" stroke="#48657e" stroke-width="0.65"/>
<circle cx="468.40" cy="83.20" r="1.9" fill="#92b0c7" stroke="#48657e" stroke-width="0.65"/>
<circle cx="473.80" cy="83.90" r="1.9" fill="#92b0c7" stroke="#48657e" stroke-width="0.65"/>
<circle cx="479.10" cy="82.40" r="1.9" fill="#92b0c7" stroke="#48657e" stroke-width="0.65"/>
<circle cx="470.70" cy="87.00" r="1.9" fill="#92b0c7" stroke="#48657e" stroke-width="0.65"/>
<circle cx="476.10" cy="87.00" r="1.9" fill="#92b0c7" stroke="#48657e" stroke-width="0.65"/>
<circle cx="472.20" cy="90.80" r="1.9" fill="#92b0c7" stroke="#48657e" stroke-width="0.65"/>
<circle cx="479.10" cy="89.30" r="1.9" fill="#92b0c7" stroke="#48657e" stroke-width="0.65"/>
<circle cx="471.50" cy="94.60" r="1.9" fill="#92b0c7" stroke="#48657e" stroke-width="0.65"/>
<circle cx="475.30" cy="97.70" r="1.9" fill="#92b0c7" stroke="#48657e" stroke-width="0.65"/>
<circle cx="468.40" cy="101.50" r="1.9" fill="#92b0c7" stroke="#48657e" stroke-width="0.65"/>
<circle cx="479.10" cy="102.30" r="1.9" fill="#92b0c7" stroke="#48657e" stroke-width="0.65"/>
<circle cx="469.20" cy="106.10" r="1.9" fill="#92b0c7" stroke="#48657e" stroke-width="0.65"/>
<circle cx="475.30" cy="104.60" r="1.9" fill="#92b0c7" stroke="#48657e" stroke-width="0.65"/>
<circle cx="491.30" cy="63.30" r="1.9" fill="#e6a0ad" stroke="#8c4a5a" stroke-width="0.65"/>
<circle cx="495.20" cy="66.30" r="1.9" fill="#e6a0ad" stroke="#8c4a5a" stroke-width="0.65"/>
<circle cx="499.80" cy="67.10" r="1.9" fill="#e6a0ad" stroke="#8c4a5a" stroke-width="0.65"/>
<circle cx="502.80" cy="65.60" r="1.9" fill="#e6a0ad" stroke="#8c4a5a" stroke-width="0.65"/>
<circle cx="496.70" cy="74.80" r="1.9" fill="#e6a0ad" stroke="#8c4a5a" stroke-width="0.65"/>
<circle cx="492.10" cy="77.80" r="1.9" fill="#e6a0ad" stroke="#8c4a5a" stroke-width="0.65"/>
<circle cx="501.30" cy="75.50" r="1.9" fill="#e6a0ad" stroke="#8c4a5a" stroke-width="0.65"/>
<circle cx="494.40" cy="80.90" r="1.9" fill="#e6a0ad" stroke="#8c4a5a" stroke-width="0.65"/>
<circle cx="501.30" cy="80.10" r="1.9" fill="#e6a0ad" stroke="#8c4a5a" stroke-width="0.65"/>
<circle cx="492.10" cy="84.70" r="1.9" fill="#e6a0ad" stroke="#8c4a5a" stroke-width="0.65"/>
<circle cx="497.50" cy="84.70" r="1.9" fill="#e6a0ad" stroke="#8c4a5a" stroke-width="0.65"/>
<circle cx="502.10" cy="84.70" r="1.9" fill="#e6a0ad" stroke="#8c4a5a" stroke-width="0.65"/>
<circle cx="493.60" cy="88.50" r="1.9" fill="#e6a0ad" stroke="#8c4a5a" stroke-width="0.65"/>
<circle cx="499.80" cy="87.80" r="1.9" fill="#e6a0ad" stroke="#8c4a5a" stroke-width="0.65"/>
<circle cx="496.70" cy="92.30" r="1.9" fill="#e6a0ad" stroke="#8c4a5a" stroke-width="0.65"/>
<circle cx="496.00" cy="78.00" r="1.9" fill="#e6a0ad" stroke="#8c4a5a" stroke-width="0.65"/>
<circle cx="499.00" cy="82.50" r="1.9" fill="#e6a0ad" stroke="#8c4a5a" stroke-width="0.65"/>
<circle cx="494.50" cy="87.50" r="1.9" fill="#e6a0ad" stroke="#8c4a5a" stroke-width="0.65"/>
<circle cx="500.50" cy="91.00" r="1.9" fill="#e6a0ad" stroke="#8c4a5a" stroke-width="0.65"/>
<circle cx="497.50" cy="89.00" r="1.9" fill="#e6a0ad" stroke="#8c4a5a" stroke-width="0.65"/>
<circle cx="491.50" cy="90.50" r="1.9" fill="#e6a0ad" stroke="#8c4a5a" stroke-width="0.65"/>
<circle cx="493.60" cy="106.10" r="1.9" fill="#e6a0ad" stroke="#8c4a5a" stroke-width="0.65"/>
<circle cx="499.80" cy="105.30" r="1.9" fill="#e6a0ad" stroke="#8c4a5a" stroke-width="0.65"/>
<circle cx="496.70" cy="109.20" r="1.9" fill="#e6a0ad" stroke="#8c4a5a" stroke-width="0.65"/>
<circle cx="495.20" cy="111.50" r="1.9" fill="#e6a0ad" stroke="#8c4a5a" stroke-width="0.65"/>
<line x1="421.20" y1="95.60" x2="434.50" y2="95.60" stroke="#333" stroke-width="0.8"/>
<line x1="444.60" y1="88.20" x2="458.00" y2="88.20" stroke="#333" stroke-width="0.8"/>
<line x1="467.50" y1="83.50" x2="481.00" y2="83.50" stroke="#333" stroke-width="0.8"/>
<line x1="491.00" y1="84.70" x2="504.50" y2="84.70" stroke="#333" stroke-width="0.8"/>
<text x="428.70" y="27.20" font-size="8.3" fill="#383838" style="stroke-width:0.12px" textLength="37.50" lengthAdjust="spacingAndGlyphs"><tspan font-style="italic">P</tspan> = .0075</text>
<polyline points="427.70,47.70 427.70,29.40 474.40,29.40 474.40,33.30" fill="none" stroke="#7c7c7c" stroke-width="1.0"/>
<text x="465.80" y="42.60" font-size="8.3" fill="#383838" style="stroke-width:0.12px" textLength="35.50" lengthAdjust="spacingAndGlyphs"><tspan font-style="italic">P</tspan> &lt; .0001</text>
<polyline points="451.90,58.00 451.90,44.20 498.50,44.20 498.50,60.00" fill="none" stroke="#7c7c7c" stroke-width="1.0"/>
<text x="421.20" y="58.80" font-size="8.3" fill="#383838" style="stroke-width:0.12px" textLength="35.30" lengthAdjust="spacingAndGlyphs"><tspan font-style="italic">P</tspan> &lt; .0001</text>
<polyline points="427.70,67.00 427.70,61.70 452.30,61.70 452.30,67.00" fill="none" stroke="#7c7c7c" stroke-width="1.0"/>
<line x1="57.50" y1="189.20" x2="57.50" y2="291.00" stroke="#1e1e1e" stroke-width="1.35"/>
<line x1="54.50" y1="286.70" x2="57.50" y2="286.70" stroke="#1e1e1e" stroke-width="1.0"/>
<text x="50.50" y="289.80" font-size="8.7" text-anchor="end" font-weight="normal" fill="#333333" >0</text>
<line x1="54.50" y1="263.10" x2="57.50" y2="263.10" stroke="#1e1e1e" stroke-width="1.0"/>
<text x="50.50" y="266.20" font-size="8.7" text-anchor="end" font-weight="normal" fill="#333333" >200</text>
<line x1="54.50" y1="239.50" x2="57.50" y2="239.50" stroke="#1e1e1e" stroke-width="1.0"/>
<text x="50.50" y="242.60" font-size="8.7" text-anchor="end" font-weight="normal" fill="#333333" >400</text>
<line x1="54.50" y1="215.90" x2="57.50" y2="215.90" stroke="#1e1e1e" stroke-width="1.0"/>
<text x="50.50" y="219.00" font-size="8.7" text-anchor="end" font-weight="normal" fill="#333333" >600</text>
<line x1="54.50" y1="192.30" x2="57.50" y2="192.30" stroke="#1e1e1e" stroke-width="1.0"/>
<text x="50.50" y="195.40" font-size="8.7" text-anchor="end" font-weight="normal" fill="#333333" >800</text>
<line x1="57.50" y1="291.00" x2="163.00" y2="291.00" stroke="#1e1e1e" stroke-width="1.35"/>
<text transform="translate(27.00,240.20) rotate(-90)" x="0" y="0" font-size="8.3" text-anchor="middle" dominant-baseline="central" fill="#333333" textLength="33" lengthAdjust="spacingAndGlyphs">Peak (nM)</text>
<circle cx="76.70" cy="245.00" r="1.9" fill="#1d507e" stroke="#0a2a48" stroke-width="0.65"/>
<circle cx="78.90" cy="249.50" r="1.9" fill="#1d507e" stroke="#0a2a48" stroke-width="0.65"/>
<circle cx="74.50" cy="253.30" r="1.9" fill="#1d507e" stroke="#0a2a48" stroke-width="0.65"/>
<circle cx="78.30" cy="252.80" r="1.9" fill="#1d507e" stroke="#0a2a48" stroke-width="0.65"/>
<circle cx="73.90" cy="257.20" r="1.9" fill="#1d507e" stroke="#0a2a48" stroke-width="0.65"/>
<circle cx="77.20" cy="257.70" r="1.9" fill="#1d507e" stroke="#0a2a48" stroke-width="0.65"/>
<circle cx="80.60" cy="256.60" r="1.9" fill="#1d507e" stroke="#0a2a48" stroke-width="0.65"/>
<circle cx="76.10" cy="261.00" r="1.9" fill="#1d507e" stroke="#0a2a48" stroke-width="0.65"/>
<circle cx="79.50" cy="261.00" r="1.9" fill="#1d507e" stroke="#0a2a48" stroke-width="0.65"/>
<circle cx="74.50" cy="265.50" r="1.9" fill="#1d507e" stroke="#0a2a48" stroke-width="0.65"/>
<circle cx="78.30" cy="266.00" r="1.9" fill="#1d507e" stroke="#0a2a48" stroke-width="0.65"/>
<circle cx="81.70" cy="266.60" r="1.9" fill="#1d507e" stroke="#0a2a48" stroke-width="0.65"/>
<circle cx="73.90" cy="270.40" r="1.9" fill="#1d507e" stroke="#0a2a48" stroke-width="0.65"/>
<circle cx="78.30" cy="269.90" r="1.9" fill="#1d507e" stroke="#0a2a48" stroke-width="0.65"/>
<circle cx="71.70" cy="274.30" r="1.9" fill="#1d507e" stroke="#0a2a48" stroke-width="0.65"/>
<circle cx="75.00" cy="273.20" r="1.9" fill="#1d507e" stroke="#0a2a48" stroke-width="0.65"/>
<circle cx="78.30" cy="274.80" r="1.9" fill="#1d507e" stroke="#0a2a48" stroke-width="0.65"/>
<circle cx="72.80" cy="278.20" r="1.9" fill="#1d507e" stroke="#0a2a48" stroke-width="0.65"/>
<circle cx="77.20" cy="277.60" r="1.9" fill="#1d507e" stroke="#0a2a48" stroke-width="0.65"/>
<circle cx="80.60" cy="278.70" r="1.9" fill="#1d507e" stroke="#0a2a48" stroke-width="0.65"/>
<circle cx="71.70" cy="280.90" r="1.9" fill="#1d507e" stroke="#0a2a48" stroke-width="0.65"/>
<circle cx="76.10" cy="280.40" r="1.9" fill="#1d507e" stroke="#0a2a48" stroke-width="0.65"/>
<circle cx="82.80" cy="280.40" r="1.9" fill="#1d507e" stroke="#0a2a48" stroke-width="0.65"/>
<circle cx="79.50" cy="282.60" r="1.9" fill="#1d507e" stroke="#0a2a48" stroke-width="0.65"/>
<circle cx="101.00" cy="239.00" r="1.9" fill="#c51c3e" stroke="#7d0c22" stroke-width="0.65"/>
<circle cx="98.20" cy="244.50" r="1.9" fill="#c51c3e" stroke="#7d0c22" stroke-width="0.65"/>
<circle cx="102.10" cy="247.20" r="1.9" fill="#c51c3e" stroke="#7d0c22" stroke-width="0.65"/>
<circle cx="105.90" cy="248.30" r="1.9" fill="#c51c3e" stroke="#7d0c22" stroke-width="0.65"/>
<circle cx="95.50" cy="250.00" r="1.9" fill="#c51c3e" stroke="#7d0c22" stroke-width="0.65"/>
<circle cx="99.30" cy="251.10" r="1.9" fill="#c51c3e" stroke="#7d0c22" stroke-width="0.65"/>
<circle cx="103.20" cy="251.10" r="1.9" fill="#c51c3e" stroke="#7d0c22" stroke-width="0.65"/>
<circle cx="107.00" cy="250.00" r="1.9" fill="#c51c3e" stroke="#7d0c22" stroke-width="0.65"/>
<circle cx="96.00" cy="257.20" r="1.9" fill="#c51c3e" stroke="#7d0c22" stroke-width="0.65"/>
<circle cx="101.00" cy="259.40" r="1.9" fill="#c51c3e" stroke="#7d0c22" stroke-width="0.65"/>
<circle cx="105.40" cy="257.70" r="1.9" fill="#c51c3e" stroke="#7d0c22" stroke-width="0.65"/>
<circle cx="107.60" cy="256.60" r="1.9" fill="#c51c3e" stroke="#7d0c22" stroke-width="0.65"/>
<circle cx="97.70" cy="261.00" r="1.9" fill="#c51c3e" stroke="#7d0c22" stroke-width="0.65"/>
<circle cx="102.10" cy="261.00" r="1.9" fill="#c51c3e" stroke="#7d0c22" stroke-width="0.65"/>
<circle cx="95.50" cy="266.00" r="1.9" fill="#c51c3e" stroke="#7d0c22" stroke-width="0.65"/>
<circle cx="100.40" cy="267.10" r="1.9" fill="#c51c3e" stroke="#7d0c22" stroke-width="0.65"/>
<circle cx="103.70" cy="267.70" r="1.9" fill="#c51c3e" stroke="#7d0c22" stroke-width="0.65"/>
<circle cx="95.50" cy="272.10" r="1.9" fill="#c51c3e" stroke="#7d0c22" stroke-width="0.65"/>
<circle cx="99.90" cy="272.60" r="1.9" fill="#c51c3e" stroke="#7d0c22" stroke-width="0.65"/>
<circle cx="103.20" cy="271.50" r="1.9" fill="#c51c3e" stroke="#7d0c22" stroke-width="0.65"/>
<circle cx="107.00" cy="272.60" r="1.9" fill="#c51c3e" stroke="#7d0c22" stroke-width="0.65"/>
<circle cx="98.20" cy="276.00" r="1.9" fill="#c51c3e" stroke="#7d0c22" stroke-width="0.65"/>
<circle cx="104.30" cy="275.40" r="1.9" fill="#c51c3e" stroke="#7d0c22" stroke-width="0.65"/>
<circle cx="97.10" cy="279.80" r="1.9" fill="#c51c3e" stroke="#7d0c22" stroke-width="0.65"/>
<circle cx="103.20" cy="278.70" r="1.9" fill="#c51c3e" stroke="#7d0c22" stroke-width="0.65"/>
<circle cx="121.00" cy="219.40" r="1.9" fill="#92b0c7" stroke="#48657e" stroke-width="0.65"/>
<circle cx="124.90" cy="217.80" r="1.9" fill="#92b0c7" stroke="#48657e" stroke-width="0.65"/>
<circle cx="127.30" cy="221.00" r="1.9" fill="#92b0c7" stroke="#48657e" stroke-width="0.65"/>
<circle cx="124.10" cy="228.80" r="1.9" fill="#92b0c7" stroke="#48657e" stroke-width="0.65"/>
<circle cx="122.60" cy="239.80" r="1.9" fill="#92b0c7" stroke="#48657e" stroke-width="0.65"/>
<circle cx="125.70" cy="239.00" r="1.9" fill="#92b0c7" stroke="#48657e" stroke-width="0.65"/>
<circle cx="120.20" cy="243.80" r="1.9" fill="#92b0c7" stroke="#48657e" stroke-width="0.65"/>
<circle cx="124.90" cy="243.80" r="1.9" fill="#92b0c7" stroke="#48657e" stroke-width="0.65"/>
<circle cx="128.80" cy="244.50" r="1.9" fill="#92b0c7" stroke="#48657e" stroke-width="0.65"/>
<circle cx="118.60" cy="248.50" r="1.9" fill="#92b0c7" stroke="#48657e" stroke-width="0.65"/>
<circle cx="123.30" cy="248.50" r="1.9" fill="#92b0c7" stroke="#48657e" stroke-width="0.65"/>
<circle cx="128.10" cy="247.70" r="1.9" fill="#92b0c7" stroke="#48657e" stroke-width="0.65"/>
<circle cx="130.40" cy="249.20" r="1.9" fill="#92b0c7" stroke="#48657e" stroke-width="0.65"/>
<circle cx="121.00" cy="252.40" r="1.9" fill="#92b0c7" stroke="#48657e" stroke-width="0.65"/>
<circle cx="125.70" cy="252.40" r="1.9" fill="#92b0c7" stroke="#48657e" stroke-width="0.65"/>
<circle cx="129.60" cy="252.40" r="1.9" fill="#92b0c7" stroke="#48657e" stroke-width="0.65"/>
<circle cx="122.60" cy="256.30" r="1.9" fill="#92b0c7" stroke="#48657e" stroke-width="0.65"/>
<circle cx="127.30" cy="255.50" r="1.9" fill="#92b0c7" stroke="#48657e" stroke-width="0.65"/>
<circle cx="121.80" cy="263.40" r="1.9" fill="#92b0c7" stroke="#48657e" stroke-width="0.65"/>
<circle cx="121.00" cy="272.80" r="1.9" fill="#92b0c7" stroke="#48657e" stroke-width="0.65"/>
<circle cx="125.70" cy="272.80" r="1.9" fill="#92b0c7" stroke="#48657e" stroke-width="0.65"/>
<circle cx="143.80" cy="220.20" r="1.9" fill="#e6a0ad" stroke="#8c4a5a" stroke-width="0.65"/>
<circle cx="147.70" cy="223.30" r="1.9" fill="#e6a0ad" stroke="#8c4a5a" stroke-width="0.65"/>
<circle cx="150.00" cy="223.30" r="1.9" fill="#e6a0ad" stroke="#8c4a5a" stroke-width="0.65"/>
<circle cx="143.00" cy="234.30" r="1.9" fill="#e6a0ad" stroke="#8c4a5a" stroke-width="0.65"/>
<circle cx="148.50" cy="233.50" r="1.9" fill="#e6a0ad" stroke="#8c4a5a" stroke-width="0.65"/>
<circle cx="153.20" cy="235.90" r="1.9" fill="#e6a0ad" stroke="#8c4a5a" stroke-width="0.65"/>
<circle cx="144.50" cy="238.30" r="1.9" fill="#e6a0ad" stroke="#8c4a5a" stroke-width="0.65"/>
<circle cx="146.90" cy="238.30" r="1.9" fill="#e6a0ad" stroke="#8c4a5a" stroke-width="0.65"/>
<circle cx="150.80" cy="239.80" r="1.9" fill="#e6a0ad" stroke="#8c4a5a" stroke-width="0.65"/>
<circle cx="142.20" cy="246.90" r="1.9" fill="#e6a0ad" stroke="#8c4a5a" stroke-width="0.65"/>
<circle cx="146.90" cy="246.10" r="1.9" fill="#e6a0ad" stroke="#8c4a5a" stroke-width="0.65"/>
<circle cx="150.80" cy="247.70" r="1.9" fill="#e6a0ad" stroke="#8c4a5a" stroke-width="0.65"/>
<circle cx="141.40" cy="251.60" r="1.9" fill="#e6a0ad" stroke="#8c4a5a" stroke-width="0.65"/>
<circle cx="147.70" cy="251.60" r="1.9" fill="#e6a0ad" stroke="#8c4a5a" stroke-width="0.65"/>
<circle cx="152.40" cy="252.40" r="1.9" fill="#e6a0ad" stroke="#8c4a5a" stroke-width="0.65"/>
<circle cx="142.20" cy="255.50" r="1.9" fill="#e6a0ad" stroke="#8c4a5a" stroke-width="0.65"/>
<circle cx="148.50" cy="256.30" r="1.9" fill="#e6a0ad" stroke="#8c4a5a" stroke-width="0.65"/>
<circle cx="152.40" cy="257.10" r="1.9" fill="#e6a0ad" stroke="#8c4a5a" stroke-width="0.65"/>
<circle cx="142.20" cy="260.20" r="1.9" fill="#e6a0ad" stroke="#8c4a5a" stroke-width="0.65"/>
<circle cx="146.90" cy="267.30" r="1.9" fill="#e6a0ad" stroke="#8c4a5a" stroke-width="0.65"/>
<circle cx="143.80" cy="275.90" r="1.9" fill="#e6a0ad" stroke="#8c4a5a" stroke-width="0.65"/>
<circle cx="149.20" cy="275.90" r="1.9" fill="#e6a0ad" stroke="#8c4a5a" stroke-width="0.65"/>
<line x1="71.10" y1="267.10" x2="84.00" y2="267.10" stroke="#333" stroke-width="0.8"/>
<line x1="94.20" y1="261.00" x2="107.70" y2="261.00" stroke="#333" stroke-width="0.8"/>
<line x1="117.50" y1="248.80" x2="130.50" y2="248.80" stroke="#333" stroke-width="0.8"/>
<line x1="140.80" y1="248.50" x2="154.50" y2="248.50" stroke="#333" stroke-width="0.8"/>
<text x="81.80" y="189.30" font-size="8.3" fill="#383838" style="stroke-width:0.12px" textLength="35.30" lengthAdjust="spacingAndGlyphs"><tspan font-style="italic">P</tspan> &lt; .0001</text>
<polyline points="76.50,214.90 76.50,192.70 124.50,192.70 124.50,195.20" fill="none" stroke="#7c7c7c" stroke-width="1.0"/>
<text x="94.50" y="205.80" font-size="8.3" fill="#383838" style="stroke-width:0.12px" textLength="35.30" lengthAdjust="spacingAndGlyphs"><tspan font-style="italic">P</tspan> &lt; .0001</text>
<polyline points="100.60,219.10 100.60,208.50 124.50,208.50 124.50,212.80" fill="none" stroke="#7c7c7c" stroke-width="1.0"/>
<text x="68.00" y="229.50" font-size="8.3" fill="#383838" style="stroke-width:0.12px" textLength="36.00" lengthAdjust="spacingAndGlyphs"><tspan font-style="italic">P</tspan> &lt; .0001</text>
<polyline points="76.50,238.00 76.50,232.90 100.80,232.90 100.80,238.00" fill="none" stroke="#7c7c7c" stroke-width="1.0"/>
<line x1="228.80" y1="188.50" x2="228.80" y2="290.60" stroke="#1e1e1e" stroke-width="1.35"/>
<line x1="225.80" y1="286.60" x2="228.80" y2="286.60" stroke="#1e1e1e" stroke-width="1.0"/>
<text x="221.90" y="289.70" font-size="8.7" text-anchor="end" font-weight="normal" fill="#333333" >0</text>
<line x1="225.80" y1="254.70" x2="228.80" y2="254.70" stroke="#1e1e1e" stroke-width="1.0"/>
<text x="221.90" y="257.80" font-size="8.7" text-anchor="end" font-weight="normal" fill="#333333" >10</text>
<line x1="225.80" y1="222.80" x2="228.80" y2="222.80" stroke="#1e1e1e" stroke-width="1.0"/>
<text x="221.90" y="225.90" font-size="8.7" text-anchor="end" font-weight="normal" fill="#333333" >20</text>
<line x1="225.80" y1="190.90" x2="228.80" y2="190.90" stroke="#1e1e1e" stroke-width="1.0"/>
<text x="221.90" y="194.00" font-size="8.7" text-anchor="end" font-weight="normal" fill="#333333" >30</text>
<line x1="228.80" y1="290.60" x2="335.40" y2="290.60" stroke="#1e1e1e" stroke-width="1.35"/>
<text transform="translate(203.00,240.00) rotate(-90)" x="0" y="0" font-size="8.3" text-anchor="middle" dominant-baseline="central" fill="#333333" textLength="60" lengthAdjust="spacingAndGlyphs">Time to peak (min)</text>
<line x1="240.80" y1="248.30" x2="256.20" y2="248.30" stroke="#333" stroke-width="0.8"/>
<line x1="264.50" y1="258.60" x2="280.00" y2="258.60" stroke="#333" stroke-width="0.8"/>
<line x1="288.00" y1="255.20" x2="303.00" y2="255.20" stroke="#333" stroke-width="0.8"/>
<line x1="310.80" y1="258.60" x2="326.50" y2="258.60" stroke="#333" stroke-width="0.8"/>
<circle cx="247.90" cy="223.10" r="1.9" fill="#1d507e" stroke="#0a2a48" stroke-width="0.65"/>
<circle cx="246.70" cy="232.60" r="1.9" fill="#1d507e" stroke="#0a2a48" stroke-width="0.65"/>
<circle cx="250.80" cy="233.20" r="1.9" fill="#1d507e" stroke="#0a2a48" stroke-width="0.65"/>
<circle cx="247.30" cy="236.20" r="1.9" fill="#1d507e" stroke="#0a2a48" stroke-width="0.65"/>
<circle cx="251.40" cy="236.80" r="1.9" fill="#1d507e" stroke="#0a2a48" stroke-width="0.65"/>
<circle cx="247.30" cy="239.20" r="1.9" fill="#1d507e" stroke="#0a2a48" stroke-width="0.65"/>
<circle cx="250.80" cy="238.60" r="1.9" fill="#1d507e" stroke="#0a2a48" stroke-width="0.65"/>
<circle cx="250.80" cy="243.30" r="1.9" fill="#1d507e" stroke="#0a2a48" stroke-width="0.65"/>
<circle cx="247.90" cy="246.30" r="1.9" fill="#1d507e" stroke="#0a2a48" stroke-width="0.65"/>
<circle cx="246.10" cy="249.80" r="1.9" fill="#1d507e" stroke="#0a2a48" stroke-width="0.65"/>
<circle cx="243.10" cy="254.00" r="1.9" fill="#1d507e" stroke="#0a2a48" stroke-width="0.65"/>
<circle cx="247.90" cy="254.00" r="1.9" fill="#1d507e" stroke="#0a2a48" stroke-width="0.65"/>
<circle cx="252.60" cy="254.00" r="1.9" fill="#1d507e" stroke="#0a2a48" stroke-width="0.65"/>
<circle cx="254.40" cy="254.60" r="1.9" fill="#1d507e" stroke="#0a2a48" stroke-width="0.65"/>
<circle cx="246.70" cy="257.00" r="1.9" fill="#1d507e" stroke="#0a2a48" stroke-width="0.65"/>
<circle cx="250.30" cy="257.00" r="1.9" fill="#1d507e" stroke="#0a2a48" stroke-width="0.65"/>
<circle cx="247.90" cy="260.50" r="1.9" fill="#1d507e" stroke="#0a2a48" stroke-width="0.65"/>
<circle cx="244.90" cy="263.50" r="1.9" fill="#1d507e" stroke="#0a2a48" stroke-width="0.65"/>
<circle cx="249.10" cy="264.10" r="1.9" fill="#1d507e" stroke="#0a2a48" stroke-width="0.65"/>
<circle cx="252.60" cy="263.50" r="1.9" fill="#1d507e" stroke="#0a2a48" stroke-width="0.65"/>
<circle cx="245.50" cy="267.10" r="1.9" fill="#1d507e" stroke="#0a2a48" stroke-width="0.65"/>
<circle cx="250.30" cy="266.50" r="1.9" fill="#1d507e" stroke="#0a2a48" stroke-width="0.65"/>
<circle cx="271.60" cy="245.10" r="1.9" fill="#c51c3e" stroke="#7d0c22" stroke-width="0.65"/>
<circle cx="275.20" cy="245.10" r="1.9" fill="#c51c3e" stroke="#7d0c22" stroke-width="0.65"/>
<circle cx="268.10" cy="247.50" r="1.9" fill="#c51c3e" stroke="#7d0c22" stroke-width="0.65"/>
<circle cx="277.00" cy="248.10" r="1.9" fill="#c51c3e" stroke="#7d0c22" stroke-width="0.65"/>
<circle cx="270.40" cy="251.60" r="1.9" fill="#c51c3e" stroke="#7d0c22" stroke-width="0.65"/>
<circle cx="274.00" cy="251.00" r="1.9" fill="#c51c3e" stroke="#7d0c22" stroke-width="0.65"/>
<circle cx="266.30" cy="255.20" r="1.9" fill="#c51c3e" stroke="#7d0c22" stroke-width="0.65"/>
<circle cx="270.40" cy="255.80" r="1.9" fill="#c51c3e" stroke="#7d0c22" stroke-width="0.65"/>
<circle cx="275.20" cy="255.80" r="1.9" fill="#c51c3e" stroke="#7d0c22" stroke-width="0.65"/>
<circle cx="278.20" cy="254.60" r="1.9" fill="#c51c3e" stroke="#7d0c22" stroke-width="0.65"/>
<circle cx="266.30" cy="258.80" r="1.9" fill="#c51c3e" stroke="#7d0c22" stroke-width="0.65"/>
<circle cx="271.00" cy="258.80" r="1.9" fill="#c51c3e" stroke="#7d0c22" stroke-width="0.65"/>
<circle cx="276.40" cy="259.30" r="1.9" fill="#c51c3e" stroke="#7d0c22" stroke-width="0.65"/>
<circle cx="266.90" cy="262.30" r="1.9" fill="#c51c3e" stroke="#7d0c22" stroke-width="0.65"/>
<circle cx="271.60" cy="261.70" r="1.9" fill="#c51c3e" stroke="#7d0c22" stroke-width="0.65"/>
<circle cx="277.00" cy="262.30" r="1.9" fill="#c51c3e" stroke="#7d0c22" stroke-width="0.65"/>
<circle cx="266.90" cy="267.70" r="1.9" fill="#c51c3e" stroke="#7d0c22" stroke-width="0.65"/>
<circle cx="271.60" cy="265.30" r="1.9" fill="#c51c3e" stroke="#7d0c22" stroke-width="0.65"/>
<circle cx="278.20" cy="268.30" r="1.9" fill="#c51c3e" stroke="#7d0c22" stroke-width="0.65"/>
<circle cx="293.10" cy="244.70" r="1.9" fill="#92b0c7" stroke="#48657e" stroke-width="0.65"/>
<circle cx="296.40" cy="245.60" r="1.9" fill="#92b0c7" stroke="#48657e" stroke-width="0.65"/>
<circle cx="291.60" cy="248.50" r="1.9" fill="#92b0c7" stroke="#48657e" stroke-width="0.65"/>
<circle cx="295.50" cy="248.50" r="1.9" fill="#92b0c7" stroke="#48657e" stroke-width="0.65"/>
<circle cx="298.80" cy="248.50" r="1.9" fill="#92b0c7" stroke="#48657e" stroke-width="0.65"/>
<circle cx="292.60" cy="251.40" r="1.9" fill="#92b0c7" stroke="#48657e" stroke-width="0.65"/>
<circle cx="296.40" cy="252.30" r="1.9" fill="#92b0c7" stroke="#48657e" stroke-width="0.65"/>
<circle cx="289.70" cy="254.30" r="1.9" fill="#92b0c7" stroke="#48657e" stroke-width="0.65"/>
<circle cx="293.50" cy="254.80" r="1.9" fill="#92b0c7" stroke="#48657e" stroke-width="0.65"/>
<circle cx="297.40" cy="254.30" r="1.9" fill="#92b0c7" stroke="#48657e" stroke-width="0.65"/>
<circle cx="301.20" cy="253.80" r="1.9" fill="#92b0c7" stroke="#48657e" stroke-width="0.65"/>
<circle cx="289.20" cy="256.70" r="1.9" fill="#92b0c7" stroke="#48657e" stroke-width="0.65"/>
<circle cx="293.10" cy="257.20" r="1.9" fill="#92b0c7" stroke="#48657e" stroke-width="0.65"/>
<circle cx="296.90" cy="257.20" r="1.9" fill="#92b0c7" stroke="#48657e" stroke-width="0.65"/>
<circle cx="300.30" cy="256.70" r="1.9" fill="#92b0c7" stroke="#48657e" stroke-width="0.65"/>
<circle cx="290.70" cy="259.10" r="1.9" fill="#92b0c7" stroke="#48657e" stroke-width="0.65"/>
<circle cx="295.00" cy="259.60" r="1.9" fill="#92b0c7" stroke="#48657e" stroke-width="0.65"/>
<circle cx="299.30" cy="259.60" r="1.9" fill="#92b0c7" stroke="#48657e" stroke-width="0.65"/>
<circle cx="291.10" cy="262.00" r="1.9" fill="#92b0c7" stroke="#48657e" stroke-width="0.65"/>
<circle cx="297.90" cy="262.40" r="1.9" fill="#92b0c7" stroke="#48657e" stroke-width="0.65"/>
<circle cx="318.50" cy="243.70" r="1.9" fill="#e6a0ad" stroke="#8c4a5a" stroke-width="0.65"/>
<circle cx="319.50" cy="248.50" r="1.9" fill="#e6a0ad" stroke="#8c4a5a" stroke-width="0.65"/>
<circle cx="317.60" cy="251.90" r="1.9" fill="#e6a0ad" stroke="#8c4a5a" stroke-width="0.65"/>
<circle cx="321.00" cy="252.30" r="1.9" fill="#e6a0ad" stroke="#8c4a5a" stroke-width="0.65"/>
<circle cx="316.60" cy="255.20" r="1.9" fill="#e6a0ad" stroke="#8c4a5a" stroke-width="0.65"/>
<circle cx="320.50" cy="254.80" r="1.9" fill="#e6a0ad" stroke="#8c4a5a" stroke-width="0.65"/>
<circle cx="323.30" cy="256.20" r="1.9" fill="#e6a0ad" stroke="#8c4a5a" stroke-width="0.65"/>
<circle cx="314.70" cy="258.60" r="1.9" fill="#e6a0ad" stroke="#8c4a5a" stroke-width="0.65"/>
<circle cx="318.50" cy="258.60" r="1.9" fill="#e6a0ad" stroke="#8c4a5a" stroke-width="0.65"/>
<circle cx="321.90" cy="259.10" r="1.9" fill="#e6a0ad" stroke="#8c4a5a" stroke-width="0.65"/>
<circle cx="325.30" cy="258.60" r="1.9" fill="#e6a0ad" stroke="#8c4a5a" stroke-width="0.65"/>
<circle cx="313.70" cy="261.50" r="1.9" fill="#e6a0ad" stroke="#8c4a5a" stroke-width="0.65"/>
<circle cx="317.60" cy="262.00" r="1.9" fill="#e6a0ad" stroke="#8c4a5a" stroke-width="0.65"/>
<circle cx="321.40" cy="261.50" r="1.9" fill="#e6a0ad" stroke="#8c4a5a" stroke-width="0.65"/>
<circle cx="324.80" cy="261.50" r="1.9" fill="#e6a0ad" stroke="#8c4a5a" stroke-width="0.65"/>
<circle cx="312.80" cy="264.40" r="1.9" fill="#e6a0ad" stroke="#8c4a5a" stroke-width="0.65"/>
<circle cx="316.10" cy="265.30" r="1.9" fill="#e6a0ad" stroke="#8c4a5a" stroke-width="0.65"/>
<circle cx="320.00" cy="264.80" r="1.9" fill="#e6a0ad" stroke="#8c4a5a" stroke-width="0.65"/>
<circle cx="323.80" cy="264.80" r="1.9" fill="#e6a0ad" stroke="#8c4a5a" stroke-width="0.65"/>
<text x="251.80" y="193.80" font-size="8.3" fill="#383838" style="stroke-width:0.12px" textLength="37.70" lengthAdjust="spacingAndGlyphs"><tspan font-style="italic">P</tspan> = .0464</text>
<polyline points="248.10,202.30 248.10,198.60 295.20,198.60 295.20,224.50" fill="none" stroke="#7c7c7c" stroke-width="1.0"/>
<text x="240.00" y="211.90" font-size="8.3" fill="#383838" style="stroke-width:0.12px" textLength="35.40" lengthAdjust="spacingAndGlyphs"><tspan font-style="italic">P</tspan> &lt; .0001</text>
<polyline points="248.10,217.40 248.10,214.80 272.40,214.80 272.40,241.70" fill="none" stroke="#7c7c7c" stroke-width="1.0"/>
<text x="287.90" y="233.60" font-size="8.3" fill="#383838" style="stroke-width:0.12px" textLength="35.60" lengthAdjust="spacingAndGlyphs"><tspan font-style="italic">P</tspan> &lt; .0001</text>
<polyline points="295.20,238.60 295.20,235.60 318.80,235.60 318.80,238.60" fill="none" stroke="#7c7c7c" stroke-width="1.0"/>
<circle cx="374.30" cy="208.50" r="3.0" fill="#1d507e" stroke="#0a2a48" stroke-width="0.7"/>
<text x="380.8" y="211.40" font-size="8.1" fill="#2e2e2e" style="stroke-width:0.1px" textLength="110.00" lengthAdjust="spacingAndGlyphs" xml:space="preserve">Untrau ECFCs + control plasma</text>
<circle cx="374.30" cy="222.30" r="3.0" fill="#c51c3e" stroke="#7d0c22" stroke-width="0.7"/>
<text x="380.8" y="225.20" font-size="8.1" fill="#2e2e2e" style="stroke-width:0.1px" textLength="103.80" lengthAdjust="spacingAndGlyphs" xml:space="preserve">Trau ECFCs +  control plasma</text>
<circle cx="374.30" cy="236.20" r="3.0" fill="#92b0c7" stroke="#48657e" stroke-width="0.7"/>
<text x="380.8" y="239.10" font-size="8.1" fill="#2e2e2e" style="stroke-width:0.1px" textLength="109.70" lengthAdjust="spacingAndGlyphs" xml:space="preserve">Untrau ECFCs + trauma plasma</text>
<circle cx="374.30" cy="249.50" r="3.0" fill="#e6a0ad" stroke="#8c4a5a" stroke-width="0.7"/>
<text x="380.8" y="252.40" font-size="8.1" fill="#2e2e2e" style="stroke-width:0.1px" textLength="101.20" lengthAdjust="spacingAndGlyphs" xml:space="preserve">Trau ECFCs + trauma plasma</text>
<line x1="56.20" y1="332.30" x2="56.20" y2="432.90" stroke="#1e1e1e" stroke-width="1.35"/>
<line x1="53.20" y1="428.40" x2="56.20" y2="428.40" stroke="#1e1e1e" stroke-width="1.0"/>
<text x="50.50" y="431.50" font-size="8.7" text-anchor="end" font-weight="normal" fill="#333333" >0.0</text>
<line x1="53.20" y1="409.80" x2="56.20" y2="409.80" stroke="#1e1e1e" stroke-width="1.0"/>
<text x="50.50" y="412.90" font-size="8.7" text-anchor="end" font-weight="normal" fill="#333333" >0.1</text>
<line x1="53.20" y1="391.20" x2="56.20" y2="391.20" stroke="#1e1e1e" stroke-width="1.0"/>
<text x="50.50" y="394.30" font-size="8.7" text-anchor="end" font-weight="normal" fill="#333333" >0.2</text>
<line x1="53.20" y1="372.60" x2="56.20" y2="372.60" stroke="#1e1e1e" stroke-width="1.0"/>
<text x="50.50" y="375.70" font-size="8.7" text-anchor="end" font-weight="normal" fill="#333333" >0.3</text>
<line x1="53.20" y1="354.00" x2="56.20" y2="354.00" stroke="#1e1e1e" stroke-width="1.0"/>
<text x="50.50" y="357.10" font-size="8.7" text-anchor="end" font-weight="normal" fill="#333333" >0.4</text>
<line x1="53.20" y1="335.40" x2="56.20" y2="335.40" stroke="#1e1e1e" stroke-width="1.0"/>
<text x="50.50" y="338.50" font-size="8.7" text-anchor="end" font-weight="normal" fill="#333333" >0.5</text>
<line x1="56.20" y1="432.90" x2="168.20" y2="432.90" stroke="#1e1e1e" stroke-width="1.35"/>
<line x1="60.10" y1="432.90" x2="60.10" y2="435.90" stroke="#1e1e1e" stroke-width="1.0"/>
<text x="60.10" y="447.10" font-size="8.7" text-anchor="middle" font-weight="normal" fill="#333333" >0</text>
<line x1="86.70" y1="432.90" x2="86.70" y2="435.90" stroke="#1e1e1e" stroke-width="1.0"/>
<text x="86.70" y="447.10" font-size="8.7" text-anchor="middle" font-weight="normal" fill="#333333" >50</text>
<line x1="113.30" y1="432.90" x2="113.30" y2="435.90" stroke="#1e1e1e" stroke-width="1.0"/>
<text x="113.30" y="447.10" font-size="8.7" text-anchor="middle" font-weight="normal" fill="#333333" >100</text>
<line x1="139.90" y1="432.90" x2="139.90" y2="435.90" stroke="#1e1e1e" stroke-width="1.0"/>
<text x="139.90" y="447.10" font-size="8.7" text-anchor="middle" font-weight="normal" fill="#333333" >150</text>
<line x1="166.50" y1="432.90" x2="166.50" y2="435.90" stroke="#1e1e1e" stroke-width="1.0"/>
<text x="166.50" y="447.10" font-size="8.7" text-anchor="middle" font-weight="normal" fill="#333333" >200</text>
<text transform="translate(28.9,381.3) rotate(-90)" font-size="8.3" text-anchor="middle" dominant-baseline="central" fill="#333333" textLength="58" lengthAdjust="spacingAndGlyphs">Clot turbidity (A<tspan font-size="6" dy="2">405</tspan><tspan dy="-2">)</tspan></text>
<text x="112.9" y="461" font-size="8.3" text-anchor="middle" fill="#333333" textLength="34.6" lengthAdjust="spacingAndGlyphs">Time (min)</text>
<polyline points="60.10,399.01 60.37,395.57 60.63,391.92 60.90,388.20 61.16,384.51 61.43,380.99 61.70,377.75 61.96,374.91 62.23,372.60 62.49,370.57 62.76,368.54 63.03,366.60 63.29,364.83 63.56,363.31 63.82,362.12 64.09,361.34 64.36,361.07 64.62,361.07 64.89,361.07 65.15,361.07 65.42,361.08 65.69,361.08 65.95,361.09 66.22,361.10 66.48,361.11 66.75,361.12 67.02,361.13 67.28,361.14 67.55,361.15 67.81,361.17 68.08,361.18 68.35,361.20 68.61,361.21 68.88,361.23 69.14,361.25 69.41,361.26 69.68,361.28 69.94,361.30 70.21,361.32 70.47,361.34 70.74,361.36 71.01,361.38 71.27,361.41 71.54,361.43 71.80,361.45 72.07,361.47 72.34,361.49 72.60,361.52 72.87,361.54 73.13,361.56 73.40,361.59 73.67,361.61 73.93,361.63 74.20,361.66 74.46,361.68 74.73,361.70 75.00,361.72 75.26,361.75 75.53,361.77 75.79,361.79 76.06,361.81 76.33,361.83 76.59,361.85 76.86,361.87 77.12,361.89 77.39,361.91 77.66,361.93 77.92,361.95 78.19,361.97 78.45,361.99 78.72,362.01 78.99,362.03 79.25,362.05 79.52,362.07 79.78,362.09 80.05,362.11 80.32,362.13 80.58,362.15 80.85,362.17 81.11,362.19 81.38,362.22 81.65,362.24 81.91,362.26 82.18,362.28 82.44,362.31 82.71,362.33 82.98,362.36 83.24,362.38 83.51,362.41 83.77,362.44 84.04,362.47 84.31,362.50 84.57,362.53 84.84,362.56 85.10,362.59 85.37,362.63 85.64,362.66 85.90,362.70 86.17,362.73 86.43,362.77 86.70,362.81 86.97,362.85 87.23,362.90 87.50,362.94 87.76,362.99 88.03,363.04 88.30,363.09 88.56,363.14 88.83,363.19 89.09,363.24 89.36,363.30 89.63,363.36 89.89,363.44 90.16,363.54 90.42,363.65 90.69,363.77 90.96,363.91 91.22,364.06 91.49,364.22 91.75,364.39 92.02,364.58 92.29,364.78 92.55,364.99 92.82,365.21 93.08,365.44 93.35,365.68 93.62,365.93 93.88,366.19 94.15,366.46 94.41,366.73 94.68,367.02 94.95,367.34 95.21,367.73 95.48,368.18 95.74,368.69 96.01,369.24 96.28,369.84 96.54,370.47 96.81,371.15 97.07,371.85 97.34,372.57 97.61,373.32 97.87,374.08 98.14,374.85 98.40,375.62 98.67,376.39 98.94,377.15 99.20,377.90 99.47,378.64 99.73,379.35 100.00,380.04 100.27,380.74 100.53,381.51 100.80,382.31 101.06,383.14 101.33,383.98 101.60,384.82 101.86,385.64 102.13,386.44 102.39,387.18 102.66,387.87 102.93,388.48 103.19,389.00 103.46,389.41 103.72,389.71 103.99,389.94 104.26,390.16 104.52,390.37 104.79,390.57 105.05,390.76 105.32,390.94 105.59,391.12 105.85,391.28 106.12,391.44 106.38,391.59 106.65,391.73 106.92,391.87 107.18,391.99 107.45,392.11 107.71,392.22 107.98,392.33 108.25,392.43 108.51,392.52 108.78,392.61 109.04,392.69 109.31,392.77 109.58,392.83 109.84,392.90 110.11,392.96 110.37,393.01 110.64,393.06 110.91,393.11 111.17,393.15 111.44,393.19 111.70,393.24 111.97,393.28 112.24,393.32 112.50,393.36 112.77,393.40 113.03,393.44 113.30,393.47 113.57,393.51 113.83,393.55 114.10,393.58 114.36,393.61 114.63,393.64 114.90,393.68 115.16,393.71 115.43,393.74 115.69,393.77 115.96,393.79 116.23,393.82 116.49,393.85 116.76,393.88 117.02,393.90 117.29,393.93 117.56,393.95 117.82,393.97 118.09,394.00 118.35,394.02 118.62,394.04 118.89,394.06 119.15,394.08 119.42,394.10 119.68,394.12 119.95,394.14 120.22,394.16 120.48,394.17 120.75,394.19 121.01,394.21 121.28,394.22 121.55,394.24 121.81,394.25 122.08,394.27 122.34,394.28 122.61,394.30 122.88,394.31 123.14,394.32 123.41,394.34 123.67,394.35 123.94,394.36 124.21,394.37 124.47,394.39 124.74,394.40 125.00,394.41 125.27,394.42 125.54,394.43 125.80,394.44 126.07,394.46 126.33,394.47 126.60,394.48 126.87,394.49 127.13,394.50 127.40,394.51 127.66,394.52 127.93,394.53 128.20,394.54 128.46,394.55 128.73,394.56 128.99,394.57 129.26,394.58 129.53,394.59 129.79,394.60 130.06,394.61 130.32,394.62 130.59,394.63 130.86,394.64 131.12,394.65 131.39,394.66 131.65,394.67 131.92,394.68 132.19,394.68 132.45,394.69 132.72,394.70 132.98,394.71 133.25,394.72 133.52,394.73 133.78,394.74 134.05,394.74 134.31,394.75 134.58,394.76 134.85,394.77 135.11,394.78 135.38,394.78 135.64,394.79 135.91,394.80 136.18,394.81 136.44,394.81 136.71,394.82 136.97,394.83 137.24,394.84 137.51,394.84 137.77,394.85 138.04,394.86 138.30,394.86 138.57,394.87 138.84,394.88 139.10,394.88 139.37,394.89 139.63,394.90 139.90,394.90 140.17,394.91 140.43,394.92 140.70,394.92 140.96,394.93 141.23,394.94 141.50,394.94 141.76,394.95 142.03,394.95 142.29,394.96 142.56,394.97 142.83,394.97 143.09,394.98 143.36,394.98 143.62,394.99 143.89,395.00 144.16,395.00 144.42,395.01 144.69,395.01 144.95,395.02 145.22,395.03 145.49,395.03 145.75,395.04 146.02,395.04 146.28,395.05 146.55,395.05 146.82,395.06 147.08,395.06 147.35,395.07 147.61,395.07 147.88,395.08 148.15,395.09 148.41,395.09 148.68,395.10 148.94,395.10 149.21,395.11 149.48,395.11 149.74,395.12 150.01,395.12 150.27,395.13 150.54,395.13 150.81,395.14 151.07,395.14 151.34,395.15 151.60,395.15 151.87,395.16 152.14,395.16 152.40,395.17 152.67,395.18 152.93,395.18 153.20,395.19 153.47,395.19 153.73,395.20 154.00,395.20 154.26,395.21 154.53,395.21 154.80,395.22 155.06,395.22 155.33,395.23 155.59,395.23 155.86,395.24 156.13,395.24 156.39,395.25 156.66,395.25 156.92,395.26 157.19,395.27 157.46,395.27 157.72,395.28 157.99,395.28 158.25,395.29 158.52,395.29 158.79,395.30 159.05,395.30 159.32,395.31 159.58,395.32 159.85,395.32 160.12,395.33 160.38,395.33 160.65,395.34 160.91,395.34 161.18,395.35 161.45,395.36 161.71,395.36 161.98,395.37 162.24,395.37 162.51,395.38 162.78,395.39 163.04,395.39 163.31,395.40 163.57,395.40 163.84,395.41 164.11,395.42 164.37,395.42 164.64,395.43 164.90,395.44 165.17,395.44 165.44,395.45 165.70,395.46 165.97,395.46 166.23,395.47 166.50,395.48" fill="none" stroke="#86a4bb" stroke-width="1.0"/>
<polyline points="60.10,398.64 60.37,395.51 60.63,392.22 60.90,388.86 61.16,385.54 61.43,382.35 61.70,379.37 61.96,376.71 62.23,374.46 62.49,372.40 62.76,370.30 63.03,368.27 63.29,366.40 63.56,364.78 63.82,363.50 64.09,362.67 64.36,362.37 64.62,362.37 64.89,362.37 65.15,362.37 65.42,362.38 65.69,362.38 65.95,362.38 66.22,362.39 66.48,362.39 66.75,362.40 67.02,362.41 67.28,362.42 67.55,362.42 67.81,362.43 68.08,362.44 68.35,362.45 68.61,362.46 68.88,362.47 69.14,362.49 69.41,362.50 69.68,362.51 69.94,362.52 70.21,362.54 70.47,362.55 70.74,362.57 71.01,362.58 71.27,362.60 71.54,362.61 71.80,362.63 72.07,362.65 72.34,362.66 72.60,362.68 72.87,362.70 73.13,362.72 73.40,362.73 73.67,362.75 73.93,362.77 74.20,362.79 74.46,362.81 74.73,362.83 75.00,362.85 75.26,362.87 75.53,362.89 75.79,362.91 76.06,362.93 76.33,362.95 76.59,362.97 76.86,362.99 77.12,363.02 77.39,363.04 77.66,363.06 77.92,363.09 78.19,363.12 78.45,363.15 78.72,363.18 78.99,363.21 79.25,363.24 79.52,363.27 79.78,363.31 80.05,363.34 80.32,363.38 80.58,363.42 80.85,363.46 81.11,363.50 81.38,363.54 81.65,363.59 81.91,363.63 82.18,363.68 82.44,363.73 82.71,363.78 82.98,363.84 83.24,363.89 83.51,363.95 83.77,364.01 84.04,364.07 84.31,364.13 84.57,364.20 84.84,364.26 85.10,364.33 85.37,364.40 85.64,364.47 85.90,364.55 86.17,364.63 86.43,364.71 86.70,364.79 86.97,364.88 87.23,364.99 87.50,365.12 87.76,365.26 88.03,365.42 88.30,365.59 88.56,365.78 88.83,365.98 89.09,366.20 89.36,366.42 89.63,366.67 89.89,366.92 90.16,367.19 90.42,367.46 90.69,367.75 90.96,368.05 91.22,368.36 91.49,368.67 91.75,369.00 92.02,369.33 92.29,369.68 92.55,370.02 92.82,370.38 93.08,370.74 93.35,371.14 93.62,371.61 93.88,372.13 94.15,372.72 94.41,373.34 94.68,374.01 94.95,374.71 95.21,375.44 95.48,376.19 95.74,376.95 96.01,377.71 96.28,378.48 96.54,379.24 96.81,379.98 97.07,380.70 97.34,381.40 97.61,382.06 97.87,382.68 98.14,383.25 98.40,383.76 98.67,384.25 98.94,384.74 99.20,385.24 99.47,385.74 99.73,386.23 100.00,386.73 100.27,387.22 100.53,387.71 100.80,388.19 101.06,388.66 101.33,389.12 101.60,389.57 101.86,390.01 102.13,390.43 102.39,390.83 102.66,391.21 102.93,391.57 103.19,391.91 103.46,392.23 103.72,392.52 103.99,392.78 104.26,393.01 104.52,393.22 104.79,393.39 105.05,393.52 105.32,393.62 105.59,393.70 105.85,393.77 106.12,393.84 106.38,393.91 106.65,393.98 106.92,394.05 107.18,394.11 107.45,394.17 107.71,394.23 107.98,394.29 108.25,394.34 108.51,394.39 108.78,394.44 109.04,394.48 109.31,394.53 109.58,394.57 109.84,394.61 110.11,394.65 110.37,394.68 110.64,394.71 110.91,394.74 111.17,394.77 111.44,394.80 111.70,394.82 111.97,394.84 112.24,394.86 112.50,394.88 112.77,394.90 113.03,394.91 113.30,394.92 113.57,394.93 113.83,394.94 114.10,394.95 114.36,394.96 114.63,394.97 114.90,394.98 115.16,394.99 115.43,395.00 115.69,395.01 115.96,395.02 116.23,395.03 116.49,395.04 116.76,395.05 117.02,395.06 117.29,395.06 117.56,395.07 117.82,395.08 118.09,395.09 118.35,395.10 118.62,395.11 118.89,395.12 119.15,395.12 119.42,395.13 119.68,395.14 119.95,395.15 120.22,395.16 120.48,395.16 120.75,395.17 121.01,395.18 121.28,395.19 121.55,395.19 121.81,395.20 122.08,395.21 122.34,395.21 122.61,395.22 122.88,395.23 123.14,395.24 123.41,395.24 123.67,395.25 123.94,395.26 124.21,395.26 124.47,395.27 124.74,395.27 125.00,395.28 125.27,395.29 125.54,395.29 125.80,395.30 126.07,395.30 126.33,395.31 126.60,395.32 126.87,395.32 127.13,395.33 127.40,395.33 127.66,395.34 127.93,395.34 128.20,395.35 128.46,395.36 128.73,395.36 128.99,395.37 129.26,395.37 129.53,395.38 129.79,395.38 130.06,395.39 130.32,395.39 130.59,395.39 130.86,395.40 131.12,395.40 131.39,395.41 131.65,395.41 131.92,395.42 132.19,395.42 132.45,395.43 132.72,395.43 132.98,395.44 133.25,395.44 133.52,395.44 133.78,395.45 134.05,395.45 134.31,395.46 134.58,395.46 134.85,395.46 135.11,395.47 135.38,395.47 135.64,395.48 135.91,395.48 136.18,395.48 136.44,395.49 136.71,395.49 136.97,395.49 137.24,395.50 137.51,395.50 137.77,395.50 138.04,395.51 138.30,395.51 138.57,395.51 138.84,395.52 139.10,395.52 139.37,395.52 139.63,395.53 139.90,395.53 140.17,395.53 140.43,395.54 140.70,395.54 140.96,395.54 141.23,395.55 141.50,395.55 141.76,395.55 142.03,395.56 142.29,395.56 142.56,395.56 142.83,395.56 143.09,395.57 143.36,395.57 143.62,395.57 143.89,395.58 144.16,395.58 144.42,395.58 144.69,395.58 144.95,395.59 145.22,395.59 145.49,395.59 145.75,395.60 146.02,395.60 146.28,395.60 146.55,395.60 146.82,395.61 147.08,395.61 147.35,395.61 147.61,395.61 147.88,395.62 148.15,395.62 148.41,395.62 148.68,395.63 148.94,395.63 149.21,395.63 149.48,395.63 149.74,395.64 150.01,395.64 150.27,395.64 150.54,395.64 150.81,395.65 151.07,395.65 151.34,395.65 151.60,395.66 151.87,395.66 152.14,395.66 152.40,395.66 152.67,395.67 152.93,395.67 153.20,395.67 153.47,395.68 153.73,395.68 154.00,395.68 154.26,395.68 154.53,395.69 154.80,395.69 155.06,395.69 155.33,395.70 155.59,395.70 155.86,395.70 156.13,395.70 156.39,395.71 156.66,395.71 156.92,395.71 157.19,395.72 157.46,395.72 157.72,395.72 157.99,395.73 158.25,395.73 158.52,395.73 158.79,395.74 159.05,395.74 159.32,395.74 159.58,395.75 159.85,395.75 160.12,395.75 160.38,395.76 160.65,395.76 160.91,395.76 161.18,395.77 161.45,395.77 161.71,395.77 161.98,395.78 162.24,395.78 162.51,395.79 162.78,395.79 163.04,395.79 163.31,395.80 163.57,395.80 163.84,395.81 164.11,395.81 164.37,395.81 164.64,395.82 164.90,395.82 165.17,395.83 165.44,395.83 165.70,395.84 165.97,395.84 166.23,395.85 166.50,395.85" fill="none" stroke="#dc94a3" stroke-width="1.0"/>
<polyline points="60.10,391.20 60.37,388.02 60.63,384.61 60.90,381.12 61.16,377.67 61.43,374.40 61.70,371.44 61.96,368.94 62.23,367.02 62.49,365.44 62.76,363.91 63.03,362.46 63.29,361.16 63.56,360.06 63.82,359.21 64.09,358.66 64.36,358.46 64.62,358.46 64.89,358.47 65.15,358.47 65.42,358.47 65.69,358.47 65.95,358.47 66.22,358.48 66.48,358.48 66.75,358.48 67.02,358.49 67.28,358.49 67.55,358.50 67.81,358.51 68.08,358.51 68.35,358.52 68.61,358.53 68.88,358.53 69.14,358.54 69.41,358.55 69.68,358.56 69.94,358.57 70.21,358.58 70.47,358.59 70.74,358.60 71.01,358.61 71.27,358.62 71.54,358.63 71.80,358.64 72.07,358.65 72.34,358.66 72.60,358.68 72.87,358.69 73.13,358.70 73.40,358.72 73.67,358.73 73.93,358.74 74.20,358.76 74.46,358.77 74.73,358.79 75.00,358.80 75.26,358.82 75.53,358.83 75.79,358.85 76.06,358.86 76.33,358.88 76.59,358.89 76.86,358.91 77.12,358.93 77.39,358.94 77.66,358.96 77.92,358.98 78.19,358.99 78.45,359.01 78.72,359.03 78.99,359.05 79.25,359.06 79.52,359.08 79.78,359.10 80.05,359.12 80.32,359.14 80.58,359.15 80.85,359.17 81.11,359.19 81.38,359.21 81.65,359.23 81.91,359.24 82.18,359.26 82.44,359.28 82.71,359.30 82.98,359.32 83.24,359.34 83.51,359.36 83.77,359.38 84.04,359.40 84.31,359.43 84.57,359.45 84.84,359.47 85.10,359.50 85.37,359.52 85.64,359.55 85.90,359.57 86.17,359.60 86.43,359.63 86.70,359.66 86.97,359.68 87.23,359.71 87.50,359.75 87.76,359.78 88.03,359.81 88.30,359.85 88.56,359.88 88.83,359.92 89.09,359.96 89.36,360.00 89.63,360.04 89.89,360.08 90.16,360.12 90.42,360.17 90.69,360.21 90.96,360.26 91.22,360.31 91.49,360.36 91.75,360.41 92.02,360.47 92.29,360.52 92.55,360.58 92.82,360.64 93.08,360.70 93.35,360.76 93.62,360.83 93.88,360.89 94.15,360.96 94.41,361.03 94.68,361.10 94.95,361.18 95.21,361.25 95.48,361.35 95.74,361.47 96.01,361.63 96.28,361.81 96.54,362.02 96.81,362.26 97.07,362.51 97.34,362.79 97.61,363.09 97.87,363.41 98.14,363.75 98.40,364.10 98.67,364.46 98.94,364.84 99.20,365.22 99.47,365.62 99.73,366.02 100.00,366.42 100.27,366.83 100.53,367.24 100.80,367.66 101.06,368.07 101.33,368.48 101.60,368.88 101.86,369.31 102.13,369.78 102.39,370.30 102.66,370.86 102.93,371.45 103.19,372.06 103.46,372.70 103.72,373.36 103.99,374.03 104.26,374.70 104.52,375.38 104.79,376.05 105.05,376.71 105.32,377.36 105.59,377.99 105.85,378.59 106.12,379.17 106.38,379.70 106.65,380.20 106.92,380.65 107.18,381.06 107.45,381.40 107.71,381.68 107.98,381.90 108.25,382.08 108.51,382.25 108.78,382.42 109.04,382.59 109.31,382.75 109.58,382.90 109.84,383.04 110.11,383.18 110.37,383.31 110.64,383.44 110.91,383.55 111.17,383.66 111.44,383.75 111.70,383.84 111.97,383.92 112.24,383.98 112.50,384.04 112.77,384.08 113.03,384.11 113.30,384.13 113.57,384.15 113.83,384.16 114.10,384.17 114.36,384.18 114.63,384.20 114.90,384.21 115.16,384.22 115.43,384.23 115.69,384.24 115.96,384.25 116.23,384.26 116.49,384.27 116.76,384.28 117.02,384.29 117.29,384.30 117.56,384.31 117.82,384.32 118.09,384.33 118.35,384.34 118.62,384.35 118.89,384.35 119.15,384.36 119.42,384.37 119.68,384.38 119.95,384.39 120.22,384.39 120.48,384.40 120.75,384.41 121.01,384.41 121.28,384.42 121.55,384.43 121.81,384.43 122.08,384.44 122.34,384.44 122.61,384.45 122.88,384.46 123.14,384.46 123.41,384.47 123.67,384.47 123.94,384.48 124.21,384.48 124.47,384.49 124.74,384.49 125.00,384.50 125.27,384.50 125.54,384.51 125.80,384.51 126.07,384.51 126.33,384.52 126.60,384.52 126.87,384.53 127.13,384.53 127.40,384.53 127.66,384.54 127.93,384.54 128.20,384.54 128.46,384.55 128.73,384.55 128.99,384.55 129.26,384.56 129.53,384.56 129.79,384.56 130.06,384.57 130.32,384.57 130.59,384.57 130.86,384.58 131.12,384.58 131.39,384.58 131.65,384.58 131.92,384.59 132.19,384.59 132.45,384.59 132.72,384.60 132.98,384.60 133.25,384.60 133.52,384.61 133.78,384.61 134.05,384.61 134.31,384.61 134.58,384.62 134.85,384.62 135.11,384.62 135.38,384.63 135.64,384.63 135.91,384.63 136.18,384.64 136.44,384.64 136.71,384.64 136.97,384.65 137.24,384.65 137.51,384.65 137.77,384.66 138.04,384.66 138.30,384.67 138.57,384.67 138.84,384.67 139.10,384.68 139.37,384.68 139.63,384.69 139.90,384.69 140.17,384.69 140.43,384.70 140.70,384.70 140.96,384.71 141.23,384.71 141.50,384.72 141.76,384.72 142.03,384.72 142.29,384.73 142.56,384.73 142.83,384.74 143.09,384.74 143.36,384.75 143.62,384.75 143.89,384.75 144.16,384.76 144.42,384.76 144.69,384.77 144.95,384.77 145.22,384.77 145.49,384.78 145.75,384.78 146.02,384.79 146.28,384.79 146.55,384.79 146.82,384.80 147.08,384.80 147.35,384.80 147.61,384.81 147.88,384.81 148.15,384.82 148.41,384.82 148.68,384.82 148.94,384.83 149.21,384.83 149.48,384.83 149.74,384.84 150.01,384.84 150.27,384.85 150.54,384.85 150.81,384.85 151.07,384.86 151.34,384.86 151.60,384.86 151.87,384.87 152.14,384.87 152.40,384.87 152.67,384.88 152.93,384.88 153.20,384.89 153.47,384.89 153.73,384.89 154.00,384.90 154.26,384.90 154.53,384.90 154.80,384.91 155.06,384.91 155.33,384.91 155.59,384.92 155.86,384.92 156.13,384.92 156.39,384.93 156.66,384.93 156.92,384.93 157.19,384.94 157.46,384.94 157.72,384.94 157.99,384.95 158.25,384.95 158.52,384.96 158.79,384.96 159.05,384.96 159.32,384.97 159.58,384.97 159.85,384.97 160.12,384.98 160.38,384.98 160.65,384.98 160.91,384.99 161.18,384.99 161.45,384.99 161.71,385.00 161.98,385.00 162.24,385.00 162.51,385.01 162.78,385.01 163.04,385.01 163.31,385.02 163.57,385.02 163.84,385.03 164.11,385.03 164.37,385.03 164.64,385.04 164.90,385.04 165.17,385.04 165.44,385.05 165.70,385.05 165.97,385.05 166.23,385.06 166.50,385.06" fill="none" stroke="#c42548" stroke-width="1.0"/>
<polyline points="60.10,391.20 60.37,388.07 60.63,384.78 60.90,381.42 61.16,378.10 61.43,374.91 61.70,371.93 61.96,369.27 62.23,367.02 62.49,364.96 62.76,362.86 63.03,360.83 63.29,358.96 63.56,357.34 63.82,356.06 64.09,355.23 64.36,354.93 64.62,354.93 64.89,354.93 65.15,354.93 65.42,354.93 65.69,354.94 65.95,354.94 66.22,354.94 66.48,354.94 66.75,354.95 67.02,354.95 67.28,354.96 67.55,354.96 67.81,354.97 68.08,354.97 68.35,354.98 68.61,354.98 68.88,354.99 69.14,355.00 69.41,355.00 69.68,355.01 69.94,355.02 70.21,355.03 70.47,355.04 70.74,355.04 71.01,355.05 71.27,355.06 71.54,355.07 71.80,355.08 72.07,355.09 72.34,355.10 72.60,355.11 72.87,355.13 73.13,355.14 73.40,355.15 73.67,355.16 73.93,355.17 74.20,355.18 74.46,355.20 74.73,355.21 75.00,355.22 75.26,355.23 75.53,355.25 75.79,355.26 76.06,355.27 76.33,355.29 76.59,355.30 76.86,355.31 77.12,355.33 77.39,355.34 77.66,355.36 77.92,355.37 78.19,355.38 78.45,355.40 78.72,355.41 78.99,355.43 79.25,355.44 79.52,355.46 79.78,355.47 80.05,355.49 80.32,355.50 80.58,355.52 80.85,355.53 81.11,355.55 81.38,355.56 81.65,355.58 81.91,355.59 82.18,355.61 82.44,355.62 82.71,355.64 82.98,355.65 83.24,355.67 83.51,355.68 83.77,355.70 84.04,355.71 84.31,355.73 84.57,355.74 84.84,355.76 85.10,355.77 85.37,355.79 85.64,355.80 85.90,355.82 86.17,355.83 86.43,355.85 86.70,355.86 86.97,355.87 87.23,355.89 87.50,355.90 87.76,355.92 88.03,355.93 88.30,355.94 88.56,355.96 88.83,355.97 89.09,355.98 89.36,355.99 89.63,356.01 89.89,356.02 90.16,356.03 90.42,356.05 90.69,356.06 90.96,356.08 91.22,356.09 91.49,356.10 91.75,356.12 92.02,356.13 92.29,356.15 92.55,356.16 92.82,356.18 93.08,356.19 93.35,356.21 93.62,356.22 93.88,356.24 94.15,356.26 94.41,356.28 94.68,356.29 94.95,356.31 95.21,356.33 95.48,356.35 95.74,356.37 96.01,356.39 96.28,356.41 96.54,356.44 96.81,356.46 97.07,356.48 97.34,356.51 97.61,356.53 97.87,356.56 98.14,356.58 98.40,356.61 98.67,356.64 98.94,356.67 99.20,356.70 99.47,356.73 99.73,356.76 100.00,356.79 100.27,356.83 100.53,356.87 100.80,356.91 101.06,356.96 101.33,357.02 101.60,357.08 101.86,357.15 102.13,357.22 102.39,357.29 102.66,357.37 102.93,357.45 103.19,357.54 103.46,357.63 103.72,357.72 103.99,357.82 104.26,357.92 104.52,358.02 104.79,358.13 105.05,358.24 105.32,358.35 105.59,358.47 105.85,358.58 106.12,358.70 106.38,358.82 106.65,358.94 106.92,359.07 107.18,359.19 107.45,359.32 107.71,359.45 107.98,359.58 108.25,359.71 108.51,359.86 108.78,360.01 109.04,360.17 109.31,360.34 109.58,360.52 109.84,360.70 110.11,360.89 110.37,361.09 110.64,361.30 110.91,361.51 111.17,361.73 111.44,361.95 111.70,362.18 111.97,362.41 112.24,362.65 112.50,362.89 112.77,363.13 113.03,363.38 113.30,363.64 113.57,363.89 113.83,364.15 114.10,364.41 114.36,364.67 114.63,364.94 114.90,365.20 115.16,365.47 115.43,365.73 115.69,366.00 115.96,366.27 116.23,366.54 116.49,366.80 116.76,367.07 117.02,367.33 117.29,367.60 117.56,367.86 117.82,368.12 118.09,368.38 118.35,368.63 118.62,368.88 118.89,369.13 119.15,369.40 119.42,369.67 119.68,369.95 119.95,370.24 120.22,370.53 120.48,370.82 120.75,371.13 121.01,371.43 121.28,371.74 121.55,372.04 121.81,372.35 122.08,372.66 122.34,372.96 122.61,373.26 122.88,373.56 123.14,373.86 123.41,374.15 123.67,374.43 123.94,374.71 124.21,374.98 124.47,375.23 124.74,375.48 125.00,375.72 125.27,375.95 125.54,376.16 125.80,376.37 126.07,376.55 126.33,376.72 126.60,376.88 126.87,377.02 127.13,377.17 127.40,377.31 127.66,377.45 127.93,377.59 128.20,377.73 128.46,377.87 128.73,378.00 128.99,378.13 129.26,378.26 129.53,378.39 129.79,378.52 130.06,378.64 130.32,378.76 130.59,378.88 130.86,379.00 131.12,379.11 131.39,379.22 131.65,379.33 131.92,379.44 132.19,379.54 132.45,379.64 132.72,379.74 132.98,379.84 133.25,379.93 133.52,380.02 133.78,380.10 134.05,380.19 134.31,380.27 134.58,380.34 134.85,380.41 135.11,380.48 135.38,380.55 135.64,380.61 135.91,380.67 136.18,380.72 136.44,380.78 136.71,380.82 136.97,380.87 137.24,380.90 137.51,380.94 137.77,380.97 138.04,381.00 138.30,381.03 138.57,381.05 138.84,381.08 139.10,381.10 139.37,381.12 139.63,381.15 139.90,381.17 140.17,381.19 140.43,381.21 140.70,381.23 140.96,381.25 141.23,381.27 141.50,381.29 141.76,381.30 142.03,381.32 142.29,381.34 142.56,381.35 142.83,381.37 143.09,381.38 143.36,381.40 143.62,381.41 143.89,381.42 144.16,381.44 144.42,381.45 144.69,381.46 144.95,381.47 145.22,381.49 145.49,381.50 145.75,381.51 146.02,381.52 146.28,381.53 146.55,381.54 146.82,381.56 147.08,381.57 147.35,381.58 147.61,381.59 147.88,381.60 148.15,381.61 148.41,381.63 148.68,381.64 148.94,381.65 149.21,381.66 149.48,381.68 149.74,381.69 150.01,381.70 150.27,381.72 150.54,381.73 150.81,381.75 151.07,381.76 151.34,381.78 151.60,381.79 151.87,381.81 152.14,381.83 152.40,381.84 152.67,381.86 152.93,381.88 153.20,381.90 153.47,381.92 153.73,381.94 154.00,381.96 154.26,381.98 154.53,382.01 154.80,382.03 155.06,382.05 155.33,382.07 155.59,382.10 155.86,382.12 156.13,382.15 156.39,382.17 156.66,382.20 156.92,382.22 157.19,382.25 157.46,382.27 157.72,382.30 157.99,382.32 158.25,382.35 158.52,382.38 158.79,382.40 159.05,382.43 159.32,382.46 159.58,382.49 159.85,382.51 160.12,382.54 160.38,382.57 160.65,382.60 160.91,382.62 161.18,382.65 161.45,382.68 161.71,382.71 161.98,382.74 162.24,382.76 162.51,382.79 162.78,382.82 163.04,382.85 163.31,382.88 163.57,382.90 163.84,382.93 164.11,382.96 164.37,382.99 164.64,383.01 164.90,383.04 165.17,383.07 165.44,383.10 165.70,383.12 165.97,383.15 166.23,383.18 166.50,383.20" fill="none" stroke="#1f5480" stroke-width="1.0"/>
<line x1="228.50" y1="329.70" x2="228.50" y2="432.60" stroke="#1e1e1e" stroke-width="1.35"/>
<line x1="225.50" y1="428.50" x2="228.50" y2="428.50" stroke="#1e1e1e" stroke-width="1.0"/>
<text x="221.90" y="431.60" font-size="8.7" text-anchor="end" font-weight="normal" fill="#333333" >0</text>
<line x1="225.50" y1="409.30" x2="228.50" y2="409.30" stroke="#1e1e1e" stroke-width="1.0"/>
<text x="221.90" y="412.40" font-size="8.7" text-anchor="end" font-weight="normal" fill="#333333" >40</text>
<line x1="225.50" y1="390.10" x2="228.50" y2="390.10" stroke="#1e1e1e" stroke-width="1.0"/>
<text x="221.90" y="393.20" font-size="8.7" text-anchor="end" font-weight="normal" fill="#333333" >80</text>
<line x1="225.50" y1="370.90" x2="228.50" y2="370.90" stroke="#1e1e1e" stroke-width="1.0"/>
<text x="221.90" y="374.00" font-size="8.7" text-anchor="end" font-weight="normal" fill="#333333" >120</text>
<line x1="225.50" y1="351.70" x2="228.50" y2="351.70" stroke="#1e1e1e" stroke-width="1.0"/>
<text x="221.90" y="354.80" font-size="8.7" text-anchor="end" font-weight="normal" fill="#333333" >160</text>
<line x1="225.50" y1="332.50" x2="228.50" y2="332.50" stroke="#1e1e1e" stroke-width="1.0"/>
<text x="221.90" y="335.60" font-size="8.7" text-anchor="end" font-weight="normal" fill="#333333" >200</text>
<line x1="228.50" y1="432.60" x2="334.00" y2="432.60" stroke="#1e1e1e" stroke-width="1.35"/>
<text transform="translate(198,381.3) rotate(-90)" font-size="8.3" text-anchor="middle" dominant-baseline="central" fill="#333333" textLength="36.6" lengthAdjust="spacingAndGlyphs">CLT<tspan font-size="6.3" dy="2">50</tspan><tspan dy="-2"> (min)</tspan></text>
<line x1="240.30" y1="373.30" x2="255.70" y2="373.30" stroke="#333" stroke-width="0.8"/>
<line x1="264.00" y1="379.60" x2="279.50" y2="379.60" stroke="#333" stroke-width="0.8"/>
<line x1="287.50" y1="391.60" x2="303.00" y2="391.60" stroke="#333" stroke-width="0.8"/>
<line x1="311.00" y1="393.60" x2="327.00" y2="393.60" stroke="#333" stroke-width="0.8"/>
<circle cx="242.30" cy="366.10" r="1.9" fill="#1d507e" stroke="#0a2a48" stroke-width="0.65"/>
<circle cx="245.60" cy="366.10" r="1.9" fill="#1d507e" stroke="#0a2a48" stroke-width="0.65"/>
<circle cx="249.50" cy="366.10" r="1.9" fill="#1d507e" stroke="#0a2a48" stroke-width="0.65"/>
<circle cx="252.80" cy="366.10" r="1.9" fill="#1d507e" stroke="#0a2a48" stroke-width="0.65"/>
<circle cx="254.80" cy="366.10" r="1.9" fill="#1d507e" stroke="#0a2a48" stroke-width="0.65"/>
<circle cx="243.70" cy="368.00" r="1.9" fill="#1d507e" stroke="#0a2a48" stroke-width="0.65"/>
<circle cx="247.10" cy="368.00" r="1.9" fill="#1d507e" stroke="#0a2a48" stroke-width="0.65"/>
<circle cx="250.40" cy="368.00" r="1.9" fill="#1d507e" stroke="#0a2a48" stroke-width="0.65"/>
<circle cx="253.80" cy="368.00" r="1.9" fill="#1d507e" stroke="#0a2a48" stroke-width="0.65"/>
<circle cx="246.60" cy="370.40" r="1.9" fill="#1d507e" stroke="#0a2a48" stroke-width="0.65"/>
<circle cx="249.50" cy="370.40" r="1.9" fill="#1d507e" stroke="#0a2a48" stroke-width="0.65"/>
<circle cx="246.60" cy="374.30" r="1.9" fill="#1d507e" stroke="#0a2a48" stroke-width="0.65"/>
<circle cx="249.00" cy="374.30" r="1.9" fill="#1d507e" stroke="#0a2a48" stroke-width="0.65"/>
<circle cx="247.50" cy="376.70" r="1.9" fill="#1d507e" stroke="#0a2a48" stroke-width="0.65"/>
<circle cx="244.70" cy="379.60" r="1.9" fill="#1d507e" stroke="#0a2a48" stroke-width="0.65"/>
<circle cx="248.00" cy="379.60" r="1.9" fill="#1d507e" stroke="#0a2a48" stroke-width="0.65"/>
<circle cx="251.40" cy="379.60" r="1.9" fill="#1d507e" stroke="#0a2a48" stroke-width="0.65"/>
<circle cx="241.80" cy="382.00" r="1.9" fill="#1d507e" stroke="#0a2a48" stroke-width="0.65"/>
<circle cx="245.60" cy="382.00" r="1.9" fill="#1d507e" stroke="#0a2a48" stroke-width="0.65"/>
<circle cx="249.50" cy="382.00" r="1.9" fill="#1d507e" stroke="#0a2a48" stroke-width="0.65"/>
<circle cx="253.30" cy="382.00" r="1.9" fill="#1d507e" stroke="#0a2a48" stroke-width="0.65"/>
<circle cx="255.20" cy="383.40" r="1.9" fill="#1d507e" stroke="#0a2a48" stroke-width="0.65"/>
<circle cx="270.60" cy="369.50" r="1.9" fill="#c51c3e" stroke="#7d0c22" stroke-width="0.65"/>
<circle cx="265.80" cy="373.80" r="1.9" fill="#c51c3e" stroke="#7d0c22" stroke-width="0.65"/>
<circle cx="269.20" cy="374.30" r="1.9" fill="#c51c3e" stroke="#7d0c22" stroke-width="0.65"/>
<circle cx="273.50" cy="373.30" r="1.9" fill="#c51c3e" stroke="#7d0c22" stroke-width="0.65"/>
<circle cx="277.30" cy="374.30" r="1.9" fill="#c51c3e" stroke="#7d0c22" stroke-width="0.65"/>
<circle cx="266.80" cy="376.70" r="1.9" fill="#c51c3e" stroke="#7d0c22" stroke-width="0.65"/>
<circle cx="271.10" cy="377.60" r="1.9" fill="#c51c3e" stroke="#7d0c22" stroke-width="0.65"/>
<circle cx="275.40" cy="376.70" r="1.9" fill="#c51c3e" stroke="#7d0c22" stroke-width="0.65"/>
<circle cx="268.70" cy="379.60" r="1.9" fill="#c51c3e" stroke="#7d0c22" stroke-width="0.65"/>
<circle cx="272.50" cy="379.10" r="1.9" fill="#c51c3e" stroke="#7d0c22" stroke-width="0.65"/>
<circle cx="276.40" cy="379.10" r="1.9" fill="#c51c3e" stroke="#7d0c22" stroke-width="0.65"/>
<circle cx="265.80" cy="384.40" r="1.9" fill="#c51c3e" stroke="#7d0c22" stroke-width="0.65"/>
<circle cx="269.70" cy="384.80" r="1.9" fill="#c51c3e" stroke="#7d0c22" stroke-width="0.65"/>
<circle cx="274.00" cy="384.40" r="1.9" fill="#c51c3e" stroke="#7d0c22" stroke-width="0.65"/>
<circle cx="277.30" cy="383.90" r="1.9" fill="#c51c3e" stroke="#7d0c22" stroke-width="0.65"/>
<circle cx="267.70" cy="386.80" r="1.9" fill="#c51c3e" stroke="#7d0c22" stroke-width="0.65"/>
<circle cx="271.60" cy="387.70" r="1.9" fill="#c51c3e" stroke="#7d0c22" stroke-width="0.65"/>
<circle cx="275.40" cy="386.80" r="1.9" fill="#c51c3e" stroke="#7d0c22" stroke-width="0.65"/>
<circle cx="268.20" cy="389.70" r="1.9" fill="#c51c3e" stroke="#7d0c22" stroke-width="0.65"/>
<circle cx="273.00" cy="389.20" r="1.9" fill="#c51c3e" stroke="#7d0c22" stroke-width="0.65"/>
<circle cx="294.50" cy="381.60" r="1.9" fill="#92b0c7" stroke="#48657e" stroke-width="0.65"/>
<circle cx="296.90" cy="381.60" r="1.9" fill="#92b0c7" stroke="#48657e" stroke-width="0.65"/>
<circle cx="293.10" cy="383.00" r="1.9" fill="#92b0c7" stroke="#48657e" stroke-width="0.65"/>
<circle cx="296.40" cy="383.00" r="1.9" fill="#92b0c7" stroke="#48657e" stroke-width="0.65"/>
<circle cx="291.60" cy="385.40" r="1.9" fill="#92b0c7" stroke="#48657e" stroke-width="0.65"/>
<circle cx="295.00" cy="385.40" r="1.9" fill="#92b0c7" stroke="#48657e" stroke-width="0.65"/>
<circle cx="298.30" cy="385.40" r="1.9" fill="#92b0c7" stroke="#48657e" stroke-width="0.65"/>
<circle cx="290.70" cy="388.30" r="1.9" fill="#92b0c7" stroke="#48657e" stroke-width="0.65"/>
<circle cx="294.00" cy="388.30" r="1.9" fill="#92b0c7" stroke="#48657e" stroke-width="0.65"/>
<circle cx="297.40" cy="388.30" r="1.9" fill="#92b0c7" stroke="#48657e" stroke-width="0.65"/>
<circle cx="299.80" cy="388.30" r="1.9" fill="#92b0c7" stroke="#48657e" stroke-width="0.65"/>
<circle cx="289.20" cy="391.20" r="1.9" fill="#92b0c7" stroke="#48657e" stroke-width="0.65"/>
<circle cx="292.60" cy="391.20" r="1.9" fill="#92b0c7" stroke="#48657e" stroke-width="0.65"/>
<circle cx="295.90" cy="391.20" r="1.9" fill="#92b0c7" stroke="#48657e" stroke-width="0.65"/>
<circle cx="299.30" cy="391.20" r="1.9" fill="#92b0c7" stroke="#48657e" stroke-width="0.65"/>
<circle cx="301.20" cy="391.20" r="1.9" fill="#92b0c7" stroke="#48657e" stroke-width="0.65"/>
<circle cx="288.70" cy="394.00" r="1.9" fill="#92b0c7" stroke="#48657e" stroke-width="0.65"/>
<circle cx="292.10" cy="394.00" r="1.9" fill="#92b0c7" stroke="#48657e" stroke-width="0.65"/>
<circle cx="295.90" cy="394.00" r="1.9" fill="#92b0c7" stroke="#48657e" stroke-width="0.65"/>
<circle cx="299.80" cy="394.00" r="1.9" fill="#92b0c7" stroke="#48657e" stroke-width="0.65"/>
<circle cx="301.70" cy="394.00" r="1.9" fill="#92b0c7" stroke="#48657e" stroke-width="0.65"/>
<circle cx="291.60" cy="396.90" r="1.9" fill="#92b0c7" stroke="#48657e" stroke-width="0.65"/>
<circle cx="295.00" cy="396.90" r="1.9" fill="#92b0c7" stroke="#48657e" stroke-width="0.65"/>
<circle cx="298.30" cy="396.90" r="1.9" fill="#92b0c7" stroke="#48657e" stroke-width="0.65"/>
<circle cx="314.70" cy="385.40" r="1.9" fill="#e6a0ad" stroke="#8c4a5a" stroke-width="0.65"/>
<circle cx="318.00" cy="385.40" r="1.9" fill="#e6a0ad" stroke="#8c4a5a" stroke-width="0.65"/>
<circle cx="321.40" cy="385.40" r="1.9" fill="#e6a0ad" stroke="#8c4a5a" stroke-width="0.65"/>
<circle cx="314.20" cy="387.80" r="1.9" fill="#e6a0ad" stroke="#8c4a5a" stroke-width="0.65"/>
<circle cx="317.60" cy="387.80" r="1.9" fill="#e6a0ad" stroke="#8c4a5a" stroke-width="0.65"/>
<circle cx="320.90" cy="387.80" r="1.9" fill="#e6a0ad" stroke="#8c4a5a" stroke-width="0.65"/>
<circle cx="324.30" cy="387.80" r="1.9" fill="#e6a0ad" stroke="#8c4a5a" stroke-width="0.65"/>
<circle cx="313.70" cy="390.70" r="1.9" fill="#e6a0ad" stroke="#8c4a5a" stroke-width="0.65"/>
<circle cx="317.10" cy="390.70" r="1.9" fill="#e6a0ad" stroke="#8c4a5a" stroke-width="0.65"/>
<circle cx="320.50" cy="390.70" r="1.9" fill="#e6a0ad" stroke="#8c4a5a" stroke-width="0.65"/>
<circle cx="323.80" cy="390.70" r="1.9" fill="#e6a0ad" stroke="#8c4a5a" stroke-width="0.65"/>
<circle cx="312.80" cy="393.60" r="1.9" fill="#e6a0ad" stroke="#8c4a5a" stroke-width="0.65"/>
<circle cx="316.10" cy="393.60" r="1.9" fill="#e6a0ad" stroke="#8c4a5a" stroke-width="0.65"/>
<circle cx="320.00" cy="393.60" r="1.9" fill="#e6a0ad" stroke="#8c4a5a" stroke-width="0.65"/>
<circle cx="323.80" cy="393.60" r="1.9" fill="#e6a0ad" stroke="#8c4a5a" stroke-width="0.65"/>
<circle cx="325.80" cy="393.60" r="1.9" fill="#e6a0ad" stroke="#8c4a5a" stroke-width="0.65"/>
<circle cx="312.30" cy="396.40" r="1.9" fill="#e6a0ad" stroke="#8c4a5a" stroke-width="0.65"/>
<circle cx="315.70" cy="396.40" r="1.9" fill="#e6a0ad" stroke="#8c4a5a" stroke-width="0.65"/>
<circle cx="319.50" cy="396.40" r="1.9" fill="#e6a0ad" stroke="#8c4a5a" stroke-width="0.65"/>
<circle cx="323.30" cy="396.40" r="1.9" fill="#e6a0ad" stroke="#8c4a5a" stroke-width="0.65"/>
<circle cx="314.70" cy="399.30" r="1.9" fill="#e6a0ad" stroke="#8c4a5a" stroke-width="0.65"/>
<circle cx="318.50" cy="399.30" r="1.9" fill="#e6a0ad" stroke="#8c4a5a" stroke-width="0.65"/>
<circle cx="321.90" cy="399.30" r="1.9" fill="#e6a0ad" stroke="#8c4a5a" stroke-width="0.65"/>
<circle cx="317.60" cy="401.20" r="1.9" fill="#e6a0ad" stroke="#8c4a5a" stroke-width="0.65"/>
<circle cx="320.50" cy="401.20" r="1.9" fill="#e6a0ad" stroke="#8c4a5a" stroke-width="0.65"/>
<text x="253.80" y="324.90" font-size="8.3" fill="#383838" style="stroke-width:0.12px" textLength="36.00" lengthAdjust="spacingAndGlyphs"><tspan font-style="italic">P</tspan> &lt; .0001</text>
<polyline points="248.10,346.50 248.10,327.30 295.60,327.30 295.60,329.00" fill="none" stroke="#7c7c7c" stroke-width="1.0"/>
<text x="263.50" y="339.90" font-size="8.3" fill="#383838" style="stroke-width:0.12px" textLength="36.90" lengthAdjust="spacingAndGlyphs"><tspan font-style="italic">P</tspan> = .0002</text>
<polyline points="271.50,347.00 271.50,342.70 295.60,342.70 295.60,361.00" fill="none" stroke="#7c7c7c" stroke-width="1.0"/>
<text x="241.70" y="355.70" font-size="8.3" fill="#383838" style="stroke-width:0.12px" textLength="37.10" lengthAdjust="spacingAndGlyphs"><tspan font-style="italic">P</tspan> = .0004</text>
<polyline points="248.10,361.00 248.10,358.10 271.90,358.10 271.90,363.80" fill="none" stroke="#7c7c7c" stroke-width="1.0"/>
<text x="288.80" y="370.70" font-size="8.3" fill="#383838" style="stroke-width:0.12px" textLength="35.60" lengthAdjust="spacingAndGlyphs"><tspan font-style="italic">P</tspan> &lt; .0001</text>
<polyline points="295.40,378.80 295.40,374.40 319.00,374.40 319.00,382.00" fill="none" stroke="#7c7c7c" stroke-width="1.0"/>
<line x1="358.50" y1="354.90" x2="368.20" y2="354.90" stroke="#1d507e" stroke-width="1.4"/>
<circle cx="374.30" cy="354.90" r="3.0" fill="#1d507e" stroke="#0a2a48" stroke-width="0.7"/>
<text x="380.8" y="357.80" font-size="8.1" fill="#2e2e2e" style="stroke-width:0.1px" textLength="110.00" lengthAdjust="spacingAndGlyphs" xml:space="preserve">Untrau ECFCs + control plasma</text>
<line x1="358.50" y1="368.50" x2="368.20" y2="368.50" stroke="#c51c3e" stroke-width="1.4"/>
<circle cx="374.30" cy="368.50" r="3.0" fill="#c51c3e" stroke="#7d0c22" stroke-width="0.7"/>
<text x="380.8" y="371.40" font-size="8.1" fill="#2e2e2e" style="stroke-width:0.1px" textLength="103.80" lengthAdjust="spacingAndGlyphs" xml:space="preserve">Trau ECFCs +  control plasma</text>
<line x1="358.50" y1="381.80" x2="368.20" y2="381.80" stroke="#92b0c7" stroke-width="1.4"/>
<circle cx="374.30" cy="381.80" r="3.0" fill="#92b0c7" stroke="#48657e" stroke-width="0.7"/>
<text x="380.8" y="384.70" font-size="8.1" fill="#2e2e2e" style="stroke-width:0.1px" textLength="109.70" lengthAdjust="spacingAndGlyphs" xml:space="preserve">Untrau ECFCs + trauma plasma</text>
<line x1="358.50" y1="395.40" x2="368.20" y2="395.40" stroke="#e6a0ad" stroke-width="1.4"/>
<circle cx="374.30" cy="395.40" r="3.0" fill="#e6a0ad" stroke="#8c4a5a" stroke-width="0.7"/>
<text x="380.8" y="398.30" font-size="8.1" fill="#2e2e2e" style="stroke-width:0.1px" textLength="101.20" lengthAdjust="spacingAndGlyphs" xml:space="preserve">Trau ECFCs + trauma plasma</text>
</svg>
</body></html>
